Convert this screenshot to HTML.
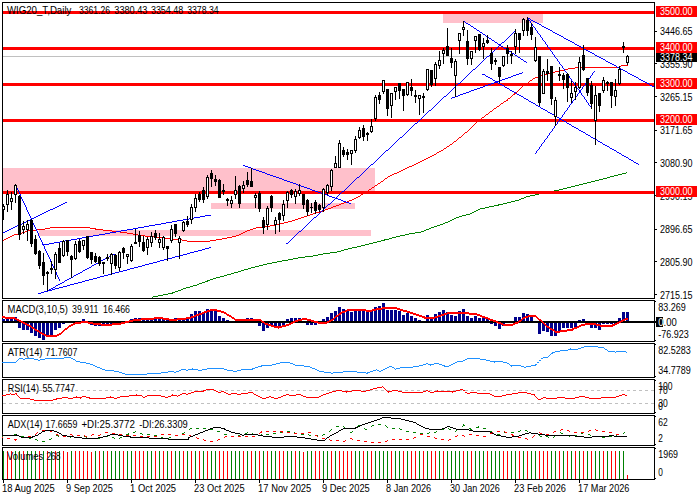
<!DOCTYPE html>
<html><head><meta charset="utf-8"><title>WIG20_T Daily</title>
<style>html,body{margin:0;padding:0;background:#fff;}body{width:700px;height:500px;overflow:hidden;font-family:"Liberation Sans",sans-serif;}</style></head>
<body>
<svg width="700" height="500" viewBox="0 0 700 500" font-family="'Liberation Sans', sans-serif" style="display:block">
<rect x="0" y="0" width="700" height="500" fill="#fff"/>
<defs><clipPath id="cm"><rect x="3" y="3" width="651" height="295"/></clipPath></defs>
<g clip-path="url(#cm)">
<g shape-rendering="crispEdges">
<rect x="3" y="168" width="372" height="24" fill="#FFC0CB"/>
<rect x="211" y="203" width="144" height="6" fill="#FFC0CB"/>
<rect x="39" y="230" width="332" height="6" fill="#FFC0CB"/>
<rect x="443" y="14" width="100" height="9" fill="#FFC0CB"/>
<rect x="3" y="56" width="651" height="1" fill="#C0C0C0"/>
<path d="M626 172h1v1h-1zM622 173h4v1h-4zM618 174h4v1h-4zM614 175h4v1h-4zM610 176h4v1h-4zM607 177h3v1h-3zM603 178h4v1h-4zM599 179h4v1h-4zM595 180h4v1h-4zM591 181h4v1h-4zM587 182h4v1h-4zM583 183h4v1h-4zM579 184h4v1h-4zM575 185h4v1h-4zM571 186h4v1h-4zM567 187h4v1h-4zM563 188h4v1h-4zM559 189h4v1h-4zM554 190h5v1h-5zM549 191h5v1h-5zM544 192h5v1h-5zM539 193h5v1h-5zM535 194h4v1h-4zM530 195h5v1h-5zM526 196h4v1h-4zM524 197h2v1h-2zM521 198h3v1h-3zM519 199h2v1h-2zM515 200h4v1h-4zM511 201h4v1h-4zM507 202h4v1h-4zM503 203h4v1h-4zM498 204h5v1h-5zM494 205h5v1h-5zM489 206h5v1h-5zM485 207h4v1h-4zM480 208h5v1h-5zM478 209h2v1h-2zM476 210h2v1h-2zM474 211h2v1h-2zM472 212h2v1h-2zM470 213h2v1h-2zM466 214h4v1h-4zM462 215h4v1h-4zM459 216h3v1h-3zM456 217h3v1h-3zM454 218h2v1h-2zM452 219h2v1h-2zM450 220h2v1h-2zM448 221h2v1h-2zM445 222h3v1h-3zM443 223h2v1h-2zM440 224h3v1h-3zM437 225h3v1h-3zM434 226h3v1h-3zM431 227h3v1h-3zM429 228h2v1h-2zM426 229h3v1h-3zM424 230h2v1h-2zM421 231h3v1h-3zM415 232h6v1h-6zM409 233h6v1h-6zM405 234h4v1h-4zM400 235h5v1h-5zM396 236h4v1h-4zM392 237h4v1h-4zM389 238h3v1h-3zM384 239h5v1h-5zM381 240h4v1h-4zM377 241h4v1h-4zM373 242h4v1h-4zM369 243h4v1h-4zM365 244h4v1h-4zM361 245h4v1h-4zM357 246h4v1h-4zM352 247h5v1h-5zM348 248h4v1h-4zM344 249h4v1h-4zM341 250h3v1h-3zM337 251h4v1h-4zM330 252h7v1h-7zM323 253h7v1h-7zM318 254h5v1h-5zM313 255h5v1h-5zM305 256h8v1h-8zM298 257h7v1h-7zM293 258h5v1h-5zM288 259h5v1h-5zM282 260h6v1h-6zM277 261h5v1h-5zM272 262h5v1h-5zM267 263h5v1h-5zM263 264h4v1h-4zM259 265h4v1h-4zM255 266h4v1h-4zM251 267h4v1h-4zM248 268h3v1h-3zM244 269h4v1h-4zM241 270h3v1h-3zM238 271h3v1h-3zM234 272h4v1h-4zM231 273h3v1h-3zM227 274h4v1h-4zM224 275h3v1h-3zM220 276h4v1h-4zM216 277h4v1h-4zM213 278h3v1h-3zM210 279h3v1h-3zM207 280h3v1h-3zM205 281h3v1h-3zM202 282h3v1h-3zM199 283h3v1h-3zM197 284h2v1h-2zM193 285h4v1h-4zM190 286h3v1h-3zM186 287h4v1h-4zM183 288h3v1h-3zM181 289h2v1h-2zM178 290h3v1h-3zM175 291h3v1h-3zM172 292h3v1h-3zM168 293h5v1h-5zM163 294h5v1h-5zM158 295h5v1h-5zM153 296h5v1h-5zM152 297h1v1h-1z" fill="#008000"/>
<rect x="3" y="11" width="651" height="3" fill="#FF0000"/>
<rect x="3" y="47" width="651" height="3" fill="#FF0000"/>
<rect x="3" y="83" width="651" height="3" fill="#FF0000"/>
<rect x="3" y="119" width="651" height="3" fill="#FF0000"/>
<rect x="3" y="191" width="651" height="3" fill="#FF0000"/>
</g>
<g shape-rendering="crispEdges">
<path d="M621 65h7v1h-7zM620 66h1v1h-1zM575 67h45v1h-45zM568 68h7v1h-7zM564 69h4v1h-4zM560 70h4v1h-4zM555 71h5v1h-5zM551 72h4v1h-4zM547 73h4v1h-4zM544 74h3v1h-3zM541 75h3v1h-3zM538 76h3v1h-3zM535 77h3v1h-3zM533 78h2v1h-2zM532 79h1v1h-1zM530 80h2v1h-2zM529 81h1v1h-1zM528 82h1v1h-1zM526 83h2v1h-2zM525 84h1v1h-1zM523 85h2v1h-2zM522 86h1v1h-1zM521 87h1v1h-1zM520 88h1v1h-1zM519 89h1v1h-1zM518 90h1v1h-1zM517 91h1v1h-1zM516 92h1v1h-1zM514 93h2v1h-2zM513 94h2v1h-2zM512 95h1v1h-1zM511 96h1v1h-1zM510 97h1v1h-1zM508 98h2v1h-2zM507 99h1v1h-1zM506 100h2v1h-2zM504 101h2v1h-2zM503 102h1v1h-1zM501 103h2v1h-2zM500 104h1v1h-1zM499 105h1v1h-1zM497 106h2v1h-2zM496 107h1v1h-1zM494 108h2v1h-2zM493 109h1v1h-1zM492 110h1v1h-1zM490 111h2v1h-2zM489 112h1v1h-1zM488 113h1v1h-1zM486 114h2v1h-2zM485 115h1v1h-1zM484 116h1v1h-1zM482 117h2v1h-2zM481 118h1v1h-1zM480 119h1v1h-1zM478 120h2v1h-2zM477 121h1v1h-1zM476 122h1v1h-1zM475 123h1v1h-1zM474 124h1v1h-1zM473 125h1v1h-1zM472 126h1v1h-1zM471 127h1v1h-1zM470 128h1v1h-1zM469 129h1v1h-1zM468 130h1v1h-1zM467 131h1v1h-1zM465 132h2v1h-2zM464 133h1v1h-1zM463 134h1v1h-1zM462 135h1v1h-1zM461 136h1v1h-1zM459 137h2v1h-2zM458 138h1v1h-1zM457 139h1v1h-1zM456 140h1v1h-1zM454 141h2v1h-2zM453 142h1v1h-1zM452 143h1v1h-1zM450 144h2v1h-2zM449 145h1v1h-1zM447 146h2v1h-2zM446 147h1v1h-1zM444 148h2v1h-2zM443 149h1v1h-1zM441 150h2v1h-2zM439 151h2v1h-2zM437 152h2v1h-2zM436 153h1v1h-1zM434 154h2v1h-2zM432 155h2v1h-2zM430 156h2v1h-2zM428 157h2v1h-2zM426 158h2v1h-2zM424 159h2v1h-2zM422 160h2v1h-2zM420 161h2v1h-2zM418 162h2v1h-2zM416 163h2v1h-2zM414 164h2v1h-2zM412 165h2v1h-2zM409 166h3v1h-3zM407 167h2v1h-2zM405 168h2v1h-2zM403 169h2v1h-2zM401 170h2v1h-2zM399 171h2v1h-2zM397 172h2v1h-2zM394 173h3v1h-3zM392 174h2v1h-2zM390 175h2v1h-2zM388 176h2v1h-2zM387 177h1v1h-1zM385 178h2v1h-2zM384 179h1v1h-1zM383 180h1v1h-1zM381 181h2v1h-2zM380 182h1v1h-1zM378 183h2v1h-2zM377 184h1v1h-1zM375 185h2v1h-2zM374 186h1v1h-1zM372 187h2v1h-2zM371 188h1v1h-1zM369 189h2v1h-2zM368 190h1v1h-1zM366 191h2v1h-2zM364 192h2v1h-2zM363 193h1v1h-1zM361 194h2v1h-2zM360 195h1v1h-1zM358 196h2v1h-2zM356 197h2v1h-2zM354 198h2v1h-2zM352 199h2v1h-2zM349 200h3v1h-3zM347 201h2v1h-2zM344 202h3v1h-3zM341 203h3v1h-3zM339 204h2v1h-2zM336 205h3v1h-3zM333 206h3v1h-3zM331 207h2v1h-2zM328 208h3v1h-3zM325 209h3v1h-3zM323 210h2v1h-2zM320 211h3v1h-3zM316 212h4v1h-4zM313 213h3v1h-3zM310 214h3v1h-3zM307 215h3v1h-3zM304 216h3v1h-3zM301 217h3v1h-3zM298 218h3v1h-3zM295 219h3v1h-3zM292 220h3v1h-3zM288 221h4v1h-4zM284 222h4v1h-4zM280 223h4v1h-4zM275 224h5v1h-5zM270 225h5v1h-5zM263 226h7v1h-7zM50 227h40v1h-40zM256 227h7v1h-7zM45 228h5v1h-5zM90 228h6v1h-6zM253 228h3v1h-3zM37 229h8v1h-8zM95 229h8v1h-8zM250 229h3v1h-3zM28 230h9v1h-9zM103 230h9v1h-9zM247 230h3v1h-3zM25 231h3v1h-3zM112 231h8v1h-8zM245 231h2v1h-2zM22 232h3v1h-3zM120 232h7v1h-7zM243 232h2v1h-2zM19 233h3v1h-3zM127 233h6v1h-6zM241 233h2v1h-2zM14 234h5v1h-5zM133 234h5v1h-5zM239 234h2v1h-2zM12 235h2v1h-2zM138 235h7v1h-7zM236 235h3v1h-3zM10 236h2v1h-2zM145 236h9v1h-9zM232 236h4v1h-4zM8 237h2v1h-2zM154 237h8v1h-8zM227 237h5v1h-5zM6 238h2v1h-2zM162 238h11v1h-11zM222 238h5v1h-5zM4 239h2v1h-2zM173 239h9v1h-9zM216 239h6v1h-6zM2 240h2v1h-2zM182 240h5v1h-5zM210 240h6v1h-6zM187 241h23v1h-23z" fill="#FF0000"/>
<path d="M209 247h2v1h-2zM205 248h4v1h-4zM202 249h3v1h-3zM198 250h4v1h-4zM194 251h4v1h-4zM190 252h4v1h-4zM187 253h3v1h-3zM183 254h4v1h-4zM179 255h4v1h-4zM175 256h4v1h-4zM172 257h3v1h-3zM168 258h4v1h-4zM164 259h4v1h-4zM160 260h4v1h-4zM157 261h3v1h-3zM153 262h4v1h-4zM149 263h4v1h-4zM145 264h4v1h-4zM142 265h3v1h-3zM138 266h4v1h-4zM134 267h4v1h-4zM130 268h4v1h-4zM127 269h3v1h-3zM123 270h4v1h-4zM119 271h4v1h-4zM115 272h4v1h-4zM112 273h3v1h-3zM108 274h4v1h-4zM104 275h4v1h-4zM100 276h4v1h-4zM97 277h3v1h-3zM93 278h4v1h-4zM89 279h4v1h-4zM85 280h4v1h-4zM82 281h3v1h-3zM78 282h4v1h-4zM74 283h4v1h-4zM70 284h4v1h-4zM67 285h3v1h-3zM63 286h4v1h-4zM59 287h4v1h-4zM55 288h4v1h-4zM52 289h3v1h-3zM48 290h4v1h-4zM44 291h4v1h-4zM41 292h3v1h-3zM38 293h3v1h-3z" fill="#0000FF"/>
<path d="M112 254h3v1h-3zM110 255h2v1h-2zM109 256h1v1h-1zM107 257h2v1h-2zM105 258h2v1h-2zM103 259h2v1h-2zM101 260h2v1h-2zM100 261h1v1h-1zM98 262h2v1h-2zM96 263h2v1h-2zM94 264h2v1h-2zM92 265h2v1h-2zM91 266h1v1h-1zM89 267h2v1h-2zM87 268h2v1h-2zM85 269h2v1h-2zM83 270h2v1h-2zM82 271h1v1h-1zM80 272h2v1h-2zM78 273h2v1h-2zM76 274h2v1h-2zM74 275h2v1h-2zM73 276h1v1h-1zM71 277h2v1h-2zM69 278h2v1h-2zM67 279h2v1h-2zM65 280h2v1h-2zM64 281h1v1h-1zM62 282h2v1h-2zM60 283h2v1h-2zM58 284h2v1h-2zM56 285h2v1h-2zM55 286h1v1h-1zM53 287h2v1h-2zM51 288h2v1h-2zM49 289h2v1h-2zM47 290h2v1h-2zM44 291h3v1h-3zM41 292h3v1h-3zM38 293h3v1h-3z" fill="#0000FF"/>
<path d="M65 202h2v1h-2zM63 203h2v1h-2zM61 204h2v1h-2zM59 205h2v1h-2zM57 206h2v1h-2zM55 207h2v1h-2zM53 208h2v1h-2zM50 209h3v1h-3zM48 210h2v1h-2zM46 211h2v1h-2zM44 212h2v1h-2zM42 213h2v1h-2zM40 214h2v1h-2zM38 215h2v1h-2zM36 216h2v1h-2zM34 217h2v1h-2zM32 218h2v1h-2zM30 219h2v1h-2zM28 220h2v1h-2zM26 221h2v1h-2zM24 222h2v1h-2zM22 223h2v1h-2zM20 224h2v1h-2zM17 225h3v1h-3zM15 226h2v1h-2zM13 227h2v1h-2zM11 228h2v1h-2zM9 229h2v1h-2zM7 230h2v1h-2zM5 231h2v1h-2zM2 232h3v1h-3z" fill="#0000FF"/>
<path d="M17 188h1v1h-1zM17 189h1v1h-1zM18 190h1v1h-1zM18 191h1v1h-1zM19 192h1v1h-1zM19 193h1v1h-1zM20 194h1v1h-1zM20 195h1v1h-1zM20 196h1v1h-1zM21 197h1v1h-1zM21 198h1v1h-1zM22 199h1v1h-1zM22 200h1v1h-1zM23 201h1v1h-1zM23 202h1v1h-1zM24 203h1v1h-1zM24 204h1v1h-1zM25 205h1v1h-1zM25 206h1v1h-1zM26 207h1v1h-1zM26 208h1v1h-1zM26 209h1v1h-1zM27 210h1v1h-1zM27 211h1v1h-1zM28 212h1v1h-1zM28 213h1v1h-1zM29 214h1v1h-1zM29 215h1v1h-1zM30 216h1v1h-1zM30 217h1v1h-1zM31 218h1v1h-1zM31 219h1v1h-1zM32 220h1v1h-1zM32 221h1v1h-1zM32 222h1v1h-1zM33 223h1v1h-1zM33 224h1v1h-1zM34 225h1v1h-1zM34 226h1v1h-1zM35 227h1v1h-1zM35 228h1v1h-1zM36 229h1v1h-1zM36 230h1v1h-1zM37 231h1v1h-1zM37 232h1v1h-1zM38 233h1v1h-1zM38 234h1v1h-1zM38 235h1v1h-1zM39 236h1v1h-1zM39 237h1v1h-1zM40 238h1v1h-1zM40 239h1v1h-1zM41 240h1v1h-1zM41 241h1v1h-1zM42 242h1v1h-1zM42 243h1v1h-1zM43 244h1v1h-1zM43 245h1v1h-1zM44 246h1v1h-1zM44 247h1v1h-1zM44 248h1v1h-1zM45 249h1v1h-1zM45 250h1v1h-1zM46 251h1v1h-1zM46 252h1v1h-1zM47 253h1v1h-1zM47 254h1v1h-1zM48 255h1v1h-1zM48 256h1v1h-1zM49 257h1v1h-1zM49 258h1v1h-1zM50 259h1v1h-1zM50 260h1v1h-1zM50 261h1v1h-1zM51 262h1v1h-1zM51 263h1v1h-1zM52 264h1v1h-1zM52 265h1v1h-1zM53 266h1v1h-1zM53 267h1v1h-1zM54 268h1v1h-1zM54 269h1v1h-1zM55 270h1v1h-1zM55 271h1v1h-1zM56 272h1v1h-1zM56 273h1v1h-1zM56 274h1v1h-1zM57 275h1v1h-1zM57 276h1v1h-1zM58 277h1v1h-1zM58 278h1v1h-1zM59 279h1v1h-1zM59 280h1v1h-1z" fill="#0000FF"/>
<path d="M205 215h6v1h-6zM200 216h5v1h-5zM194 217h6v1h-6zM189 218h5v1h-5zM183 219h6v1h-6zM177 220h6v1h-6zM172 221h5v1h-5zM166 222h6v1h-6zM161 223h5v1h-5zM155 224h6v1h-6zM149 225h6v1h-6zM144 226h5v1h-5zM138 227h6v1h-6zM133 228h5v1h-5zM127 229h6v1h-6zM121 230h6v1h-6zM116 231h5v1h-5zM110 232h6v1h-6zM105 233h5v1h-5zM99 234h6v1h-6zM93 235h6v1h-6zM88 236h5v1h-5zM82 237h6v1h-6zM77 238h5v1h-5zM71 239h6v1h-6zM65 240h6v1h-6zM60 241h5v1h-5zM54 242h6v1h-6zM49 243h5v1h-5zM42 244h7v1h-7z" fill="#0000FF"/>
<path d="M243 165h2v1h-2zM245 166h3v1h-3zM248 167h3v1h-3zM251 168h2v1h-2zM253 169h3v1h-3zM256 170h3v1h-3zM259 171h3v1h-3zM262 172h3v1h-3zM265 173h2v1h-2zM267 174h3v1h-3zM270 175h3v1h-3zM273 176h3v1h-3zM276 177h3v1h-3zM279 178h3v1h-3zM282 179h2v1h-2zM284 180h3v1h-3zM287 181h3v1h-3zM290 182h3v1h-3zM293 183h3v1h-3zM296 184h2v1h-2zM298 185h3v1h-3zM301 186h3v1h-3zM304 187h3v1h-3zM307 188h3v1h-3zM310 189h2v1h-2zM312 190h3v1h-3zM315 191h3v1h-3zM318 192h3v1h-3zM321 193h3v1h-3zM324 194h3v1h-3zM327 195h2v1h-2zM329 196h3v1h-3zM332 197h3v1h-3zM335 198h3v1h-3zM338 199h3v1h-3zM341 200h2v1h-2zM343 201h3v1h-3zM346 202h3v1h-3zM349 203h2v1h-2z" fill="#0000FF"/>
<path d="M515 30h1v1h-1zM514 31h1v1h-1zM513 32h1v1h-1zM512 33h1v1h-1zM511 34h1v1h-1zM510 35h1v1h-1zM509 36h1v1h-1zM508 37h1v1h-1zM507 38h1v1h-1zM506 39h1v1h-1zM505 40h1v1h-1zM504 41h1v1h-1zM502 42h2v1h-2zM501 43h1v1h-1zM500 44h1v1h-1zM499 45h1v1h-1zM498 46h1v1h-1zM497 47h1v1h-1zM496 48h1v1h-1zM495 49h1v1h-1zM494 50h1v1h-1zM493 51h1v1h-1zM492 52h1v1h-1zM491 53h1v1h-1zM490 54h1v1h-1zM489 55h1v1h-1zM487 56h2v1h-2zM486 57h1v1h-1zM485 58h1v1h-1zM484 59h1v1h-1zM483 60h1v1h-1zM482 61h1v1h-1zM481 62h1v1h-1zM480 63h1v1h-1zM479 64h1v1h-1zM478 65h1v1h-1zM477 66h1v1h-1zM476 67h1v1h-1zM475 68h1v1h-1zM473 69h2v1h-2zM472 70h1v1h-1zM471 71h1v1h-1zM470 72h1v1h-1zM469 73h1v1h-1zM468 74h1v1h-1zM467 75h1v1h-1zM466 76h1v1h-1zM465 77h1v1h-1zM464 78h1v1h-1zM463 79h1v1h-1zM462 80h1v1h-1zM461 81h1v1h-1zM460 82h1v1h-1zM458 83h2v1h-2zM457 84h1v1h-1zM456 85h1v1h-1zM455 86h1v1h-1zM454 87h1v1h-1zM453 88h1v1h-1zM452 89h1v1h-1zM451 90h1v1h-1zM450 91h1v1h-1zM449 92h1v1h-1zM448 93h1v1h-1zM447 94h1v1h-1zM446 95h1v1h-1zM444 96h2v1h-2zM443 97h1v1h-1zM442 98h1v1h-1zM441 99h1v1h-1zM440 100h1v1h-1zM439 101h1v1h-1zM438 102h1v1h-1zM437 103h1v1h-1zM436 104h1v1h-1zM435 105h1v1h-1zM434 106h1v1h-1zM433 107h1v1h-1zM432 108h1v1h-1zM431 109h1v1h-1zM429 110h2v1h-2zM428 111h1v1h-1zM427 112h1v1h-1zM426 113h1v1h-1zM425 114h1v1h-1zM424 115h1v1h-1zM423 116h1v1h-1zM422 117h1v1h-1zM421 118h1v1h-1zM420 119h1v1h-1zM419 120h1v1h-1zM418 121h1v1h-1zM417 122h1v1h-1zM415 123h2v1h-2zM414 124h1v1h-1zM413 125h1v1h-1zM412 126h1v1h-1zM411 127h1v1h-1zM410 128h1v1h-1zM409 129h1v1h-1zM408 130h1v1h-1zM407 131h1v1h-1zM406 132h1v1h-1zM405 133h1v1h-1zM404 134h1v1h-1zM403 135h1v1h-1zM402 136h1v1h-1zM400 137h2v1h-2zM399 138h1v1h-1zM398 139h1v1h-1zM397 140h1v1h-1zM396 141h1v1h-1zM395 142h1v1h-1zM394 143h1v1h-1zM393 144h1v1h-1zM392 145h1v1h-1zM391 146h1v1h-1zM390 147h1v1h-1zM389 148h1v1h-1zM388 149h1v1h-1zM386 150h2v1h-2zM385 151h1v1h-1zM384 152h1v1h-1zM383 153h1v1h-1zM382 154h1v1h-1zM381 155h1v1h-1zM380 156h1v1h-1zM379 157h1v1h-1zM378 158h1v1h-1zM377 159h1v1h-1zM376 160h1v1h-1zM375 161h1v1h-1zM374 162h1v1h-1zM373 163h1v1h-1zM371 164h2v1h-2zM370 165h1v1h-1zM369 166h1v1h-1zM368 167h1v1h-1zM367 168h1v1h-1zM366 169h1v1h-1zM365 170h1v1h-1zM364 171h1v1h-1zM363 172h1v1h-1zM362 173h1v1h-1zM361 174h1v1h-1zM360 175h1v1h-1zM359 176h1v1h-1zM357 177h2v1h-2zM356 178h1v1h-1zM355 179h1v1h-1zM354 180h1v1h-1zM353 181h1v1h-1zM352 182h1v1h-1zM351 183h1v1h-1zM350 184h1v1h-1zM349 185h1v1h-1zM348 186h1v1h-1zM347 187h1v1h-1zM346 188h1v1h-1zM345 189h1v1h-1zM344 190h1v1h-1zM342 191h2v1h-2zM341 192h1v1h-1zM340 193h1v1h-1zM339 194h1v1h-1zM338 195h1v1h-1zM337 196h1v1h-1zM336 197h1v1h-1zM335 198h1v1h-1zM334 199h1v1h-1zM333 200h1v1h-1zM332 201h1v1h-1zM331 202h1v1h-1zM330 203h1v1h-1zM328 204h2v1h-2zM327 205h1v1h-1zM326 206h1v1h-1zM325 207h1v1h-1zM324 208h1v1h-1zM323 209h1v1h-1zM322 210h1v1h-1zM321 211h1v1h-1zM320 212h1v1h-1zM319 213h1v1h-1zM318 214h1v1h-1zM317 215h1v1h-1zM316 216h1v1h-1zM314 217h2v1h-2zM313 218h1v1h-1zM312 219h1v1h-1zM311 220h1v1h-1zM310 221h1v1h-1zM309 222h1v1h-1zM308 223h1v1h-1zM307 224h1v1h-1zM306 225h1v1h-1zM305 226h1v1h-1zM304 227h1v1h-1zM303 228h1v1h-1zM302 229h1v1h-1zM301 230h1v1h-1zM299 231h2v1h-2zM298 232h1v1h-1zM297 233h1v1h-1zM296 234h1v1h-1zM295 235h1v1h-1zM294 236h1v1h-1zM293 237h1v1h-1zM292 238h1v1h-1zM291 239h1v1h-1zM290 240h1v1h-1zM289 241h1v1h-1zM288 242h1v1h-1zM286 243h2v1h-2z" fill="#0000FF"/>
<path d="M463 21h2v1h-2zM465 22h1v1h-1zM466 23h2v1h-2zM468 24h2v1h-2zM470 25h1v1h-1zM471 26h2v1h-2zM473 27h1v1h-1zM474 28h2v1h-2zM476 29h1v1h-1zM477 30h2v1h-2zM479 31h1v1h-1zM480 32h2v1h-2zM482 33h1v1h-1zM483 34h2v1h-2zM485 35h1v1h-1zM486 36h2v1h-2zM488 37h1v1h-1zM489 38h2v1h-2zM491 39h1v1h-1zM492 40h2v1h-2zM494 41h1v1h-1zM495 42h2v1h-2zM497 43h1v1h-1zM498 44h2v1h-2zM500 45h1v1h-1zM501 46h2v1h-2zM503 47h1v1h-1zM504 48h2v1h-2zM506 49h2v1h-2zM508 50h1v1h-1zM509 51h2v1h-2zM511 52h1v1h-1zM512 53h2v1h-2zM514 54h1v1h-1zM515 55h2v1h-2zM517 56h1v1h-1zM518 57h2v1h-2zM520 58h1v1h-1zM521 59h2v1h-2zM523 60h1v1h-1zM524 61h2v1h-2zM526 62h1v1h-1z" fill="#0000FF"/>
<path d="M522 72h1v1h-1zM519 73h3v1h-3zM516 74h3v1h-3zM513 75h3v1h-3zM511 76h2v1h-2zM508 77h3v1h-3zM505 78h3v1h-3zM502 79h3v1h-3zM499 80h3v1h-3zM497 81h2v1h-2zM494 82h3v1h-3zM491 83h3v1h-3zM488 84h3v1h-3zM485 85h3v1h-3zM483 86h2v1h-2zM480 87h3v1h-3zM477 88h3v1h-3zM474 89h3v1h-3zM471 90h3v1h-3zM469 91h2v1h-2zM466 92h3v1h-3zM463 93h3v1h-3zM460 94h3v1h-3zM458 95h2v1h-2zM455 96h3v1h-3zM452 97h3v1h-3zM451 98h1v1h-1z" fill="#0000FF"/>
<path d="M482 74h3v1h-3zM485 75h1v1h-1zM486 76h2v1h-2zM488 77h2v1h-2zM490 78h2v1h-2zM492 79h1v1h-1zM493 80h2v1h-2zM495 81h2v1h-2zM497 82h1v1h-1zM498 83h2v1h-2zM500 84h2v1h-2zM502 85h2v1h-2zM504 86h1v1h-1zM505 87h2v1h-2zM507 88h2v1h-2zM509 89h1v1h-1zM510 90h2v1h-2zM512 91h2v1h-2zM514 92h2v1h-2zM516 93h1v1h-1zM517 94h2v1h-2zM519 95h2v1h-2zM521 96h2v1h-2zM523 97h1v1h-1zM524 98h2v1h-2zM526 99h2v1h-2zM528 100h1v1h-1zM529 101h2v1h-2zM531 102h2v1h-2zM533 103h2v1h-2zM535 104h1v1h-1zM536 105h2v1h-2zM538 106h2v1h-2zM540 107h1v1h-1zM541 108h2v1h-2zM543 109h2v1h-2zM545 110h2v1h-2zM547 111h1v1h-1zM548 112h2v1h-2zM550 113h2v1h-2zM552 114h2v1h-2zM554 115h1v1h-1zM555 116h2v1h-2zM557 117h2v1h-2zM559 118h1v1h-1zM560 119h2v1h-2zM562 120h2v1h-2zM564 121h2v1h-2zM566 122h1v1h-1zM567 123h2v1h-2zM569 124h2v1h-2zM571 125h1v1h-1zM572 126h2v1h-2zM574 127h2v1h-2zM576 128h2v1h-2zM578 129h1v1h-1zM579 130h2v1h-2zM581 131h2v1h-2zM583 132h2v1h-2zM585 133h1v1h-1zM586 134h2v1h-2zM588 135h2v1h-2zM590 136h1v1h-1zM591 137h2v1h-2zM593 138h2v1h-2zM595 139h2v1h-2zM597 140h1v1h-1zM598 141h2v1h-2zM600 142h2v1h-2zM602 143h1v1h-1zM603 144h2v1h-2zM605 145h2v1h-2zM607 146h2v1h-2zM609 147h1v1h-1zM610 148h2v1h-2zM612 149h2v1h-2zM614 150h2v1h-2zM616 151h1v1h-1zM617 152h2v1h-2zM619 153h2v1h-2zM621 154h1v1h-1zM622 155h2v1h-2zM624 156h2v1h-2zM626 157h2v1h-2zM628 158h1v1h-1zM629 159h2v1h-2zM631 160h2v1h-2zM633 161h1v1h-1zM634 162h2v1h-2zM636 163h2v1h-2zM638 164h1v1h-1z" fill="#0000FF"/>
<path d="M527 17h1v1h-1zM528 18h2v1h-2zM530 19h1v1h-1zM531 20h2v1h-2zM533 21h2v1h-2zM535 22h2v1h-2zM537 23h2v1h-2zM539 24h2v1h-2zM541 25h1v1h-1zM542 26h2v1h-2zM544 27h2v1h-2zM546 28h2v1h-2zM548 29h2v1h-2zM550 30h2v1h-2zM552 31h1v1h-1zM553 32h2v1h-2zM555 33h2v1h-2zM557 34h2v1h-2zM559 35h2v1h-2zM561 36h2v1h-2zM563 37h1v1h-1zM564 38h2v1h-2zM566 39h2v1h-2zM568 40h2v1h-2zM570 41h2v1h-2zM572 42h2v1h-2zM574 43h1v1h-1zM575 44h2v1h-2zM577 45h2v1h-2zM579 46h2v1h-2zM581 47h2v1h-2zM583 48h1v1h-1zM584 49h2v1h-2zM586 50h2v1h-2zM588 51h2v1h-2zM590 52h2v1h-2zM592 53h2v1h-2zM594 54h1v1h-1zM595 55h2v1h-2zM597 56h2v1h-2zM599 57h2v1h-2zM601 58h2v1h-2zM603 59h2v1h-2zM605 60h1v1h-1zM606 61h2v1h-2zM608 62h2v1h-2zM610 63h2v1h-2zM612 64h2v1h-2zM614 65h2v1h-2zM616 66h1v1h-1zM617 67h2v1h-2zM619 68h2v1h-2zM621 69h2v1h-2zM623 70h2v1h-2zM625 71h2v1h-2zM627 72h1v1h-1zM628 73h2v1h-2zM630 74h2v1h-2zM632 75h2v1h-2zM634 76h2v1h-2zM636 77h2v1h-2zM638 78h1v1h-1zM639 79h2v1h-2zM641 80h2v1h-2zM643 81h2v1h-2zM645 82h2v1h-2zM647 83h2v1h-2zM649 84h1v1h-1zM650 85h2v1h-2zM652 86h3v1h-3z" fill="#0000FF"/>
<path d="M527 17h1v1h-1zM528 18h1v1h-1zM528 19h1v1h-1zM529 20h1v1h-1zM530 21h1v1h-1zM530 22h1v1h-1zM531 23h1v1h-1zM532 24h1v1h-1zM532 25h1v1h-1zM533 26h1v1h-1zM534 27h1v1h-1zM535 28h1v1h-1zM535 29h1v1h-1zM536 30h1v1h-1zM537 31h1v1h-1zM537 32h1v1h-1zM538 33h1v1h-1zM539 34h1v1h-1zM540 35h1v1h-1zM540 36h1v1h-1zM541 37h1v1h-1zM542 38h1v1h-1zM542 39h1v1h-1zM543 40h1v1h-1zM544 41h1v1h-1zM545 42h1v1h-1zM545 43h1v1h-1zM546 44h1v1h-1zM547 45h1v1h-1zM547 46h1v1h-1zM548 47h1v1h-1zM549 48h1v1h-1zM550 49h1v1h-1zM550 50h1v1h-1zM551 51h1v1h-1zM552 52h1v1h-1zM552 53h1v1h-1zM553 54h1v1h-1zM554 55h1v1h-1zM554 56h1v1h-1zM555 57h1v1h-1zM556 58h1v1h-1zM557 59h1v1h-1zM557 60h1v1h-1zM558 61h1v1h-1zM559 62h1v1h-1zM559 63h1v1h-1zM560 64h1v1h-1zM561 65h1v1h-1zM562 66h1v1h-1zM562 67h1v1h-1zM563 68h1v1h-1zM564 69h1v1h-1zM564 70h1v1h-1zM565 71h1v1h-1zM566 72h1v1h-1zM567 73h1v1h-1zM567 74h1v1h-1zM568 75h1v1h-1zM569 76h1v1h-1zM569 77h1v1h-1zM570 78h1v1h-1zM571 79h1v1h-1zM571 80h1v1h-1zM572 81h1v1h-1zM573 82h1v1h-1zM574 83h1v1h-1zM574 84h1v1h-1zM575 85h1v1h-1zM576 86h1v1h-1zM576 87h1v1h-1zM577 88h1v1h-1zM578 89h1v1h-1zM579 90h1v1h-1zM579 91h1v1h-1zM580 92h1v1h-1zM581 93h1v1h-1zM581 94h1v1h-1zM582 95h1v1h-1zM583 96h1v1h-1zM584 97h1v1h-1zM584 98h1v1h-1zM585 99h1v1h-1zM586 100h1v1h-1zM586 101h1v1h-1zM587 102h1v1h-1zM588 103h1v1h-1zM588 104h1v1h-1zM589 105h1v1h-1zM590 106h1v1h-1zM591 107h1v1h-1z" fill="#0000FF"/>
<path d="M594 71h1v1h-1zM593 72h1v1h-1zM592 73h1v1h-1zM592 74h1v1h-1zM591 75h1v1h-1zM590 76h1v1h-1zM590 77h1v1h-1zM589 78h1v1h-1zM588 79h1v1h-1zM587 80h1v1h-1zM587 81h1v1h-1zM586 82h1v1h-1zM585 83h1v1h-1zM585 84h1v1h-1zM584 85h1v1h-1zM583 86h1v1h-1zM582 87h1v1h-1zM582 88h1v1h-1zM581 89h1v1h-1zM580 90h1v1h-1zM580 91h1v1h-1zM579 92h1v1h-1zM578 93h1v1h-1zM577 94h1v1h-1zM577 95h1v1h-1zM576 96h1v1h-1zM575 97h1v1h-1zM575 98h1v1h-1zM574 99h1v1h-1zM573 100h1v1h-1zM572 101h1v1h-1zM572 102h1v1h-1zM571 103h1v1h-1zM570 104h1v1h-1zM569 105h1v1h-1zM569 106h1v1h-1zM568 107h1v1h-1zM567 108h1v1h-1zM567 109h1v1h-1zM566 110h1v1h-1zM565 111h1v1h-1zM564 112h1v1h-1zM564 113h1v1h-1zM563 114h1v1h-1zM562 115h1v1h-1zM562 116h1v1h-1zM561 117h1v1h-1zM560 118h1v1h-1zM559 119h1v1h-1zM559 120h1v1h-1zM558 121h1v1h-1zM557 122h1v1h-1zM557 123h1v1h-1zM556 124h1v1h-1zM555 125h1v1h-1zM554 126h1v1h-1zM554 127h1v1h-1zM553 128h1v1h-1zM552 129h1v1h-1zM552 130h1v1h-1zM551 131h1v1h-1zM550 132h1v1h-1zM549 133h1v1h-1zM549 134h1v1h-1zM548 135h1v1h-1zM547 136h1v1h-1zM547 137h1v1h-1zM546 138h1v1h-1zM545 139h1v1h-1zM544 140h1v1h-1zM544 141h1v1h-1zM543 142h1v1h-1zM542 143h1v1h-1zM541 144h1v1h-1zM541 145h1v1h-1zM540 146h1v1h-1zM539 147h1v1h-1zM539 148h1v1h-1zM538 149h1v1h-1zM537 150h1v1h-1zM536 151h1v1h-1zM536 152h1v1h-1zM535 153h1v1h-1z" fill="#0000FF"/>
</g>
<g shape-rendering="crispEdges">
<rect x="3" y="204" width="1" height="16" fill="#000"/>
<rect x="2" y="206" width="3" height="4" fill="#000"/>
<rect x="3" y="207" width="1" height="2" fill="#fff"/>
<rect x="7" y="190" width="1" height="22" fill="#000"/>
<rect x="6" y="194" width="3" height="11" fill="#000"/>
<rect x="7" y="195" width="1" height="9" fill="#fff"/>
<rect x="11" y="192" width="1" height="18" fill="#000"/>
<rect x="10" y="198" width="3" height="4" fill="#000"/>
<rect x="11" y="199" width="1" height="2" fill="#fff"/>
<rect x="15" y="184" width="1" height="19" fill="#000"/>
<rect x="14" y="185" width="3" height="10" fill="#000"/>
<rect x="15" y="186" width="1" height="8" fill="#fff"/>
<rect x="19" y="195" width="1" height="45" fill="#000"/>
<rect x="18" y="196" width="3" height="39" fill="#000"/>
<rect x="23" y="221" width="1" height="13" fill="#000"/>
<rect x="22" y="226" width="3" height="4" fill="#000"/>
<rect x="23" y="227" width="1" height="2" fill="#fff"/>
<rect x="27" y="220" width="1" height="21" fill="#000"/>
<rect x="26" y="224" width="3" height="6" fill="#000"/>
<rect x="27" y="225" width="1" height="4" fill="#fff"/>
<rect x="31" y="219" width="1" height="28" fill="#000"/>
<rect x="30" y="220" width="3" height="24" fill="#000"/>
<rect x="35" y="235" width="1" height="20" fill="#000"/>
<rect x="34" y="239" width="3" height="15" fill="#000"/>
<rect x="39" y="250" width="1" height="19" fill="#000"/>
<rect x="38" y="251" width="3" height="15" fill="#000"/>
<rect x="43" y="253" width="1" height="32" fill="#000"/>
<rect x="42" y="262" width="3" height="14" fill="#000"/>
<rect x="47" y="271" width="1" height="20" fill="#000"/>
<rect x="46" y="272" width="3" height="2" fill="#000"/>
<rect x="51" y="261" width="1" height="13" fill="#000"/>
<rect x="50" y="268" width="3" height="2" fill="#000"/>
<rect x="55" y="252" width="1" height="27" fill="#000"/>
<rect x="54" y="254" width="3" height="16" fill="#000"/>
<rect x="55" y="255" width="1" height="14" fill="#fff"/>
<rect x="59" y="243" width="1" height="20" fill="#000"/>
<rect x="58" y="248" width="3" height="15" fill="#000"/>
<rect x="63" y="240" width="1" height="17" fill="#000"/>
<rect x="62" y="241" width="3" height="15" fill="#000"/>
<rect x="63" y="242" width="1" height="13" fill="#fff"/>
<rect x="67" y="240" width="1" height="16" fill="#000"/>
<rect x="66" y="240" width="3" height="12" fill="#000"/>
<rect x="71" y="255" width="1" height="23" fill="#000"/>
<rect x="70" y="256" width="3" height="4" fill="#000"/>
<rect x="75" y="241" width="1" height="19" fill="#000"/>
<rect x="74" y="244" width="3" height="15" fill="#000"/>
<rect x="75" y="245" width="1" height="13" fill="#fff"/>
<rect x="79" y="239" width="1" height="14" fill="#000"/>
<rect x="78" y="241" width="3" height="11" fill="#000"/>
<rect x="83" y="240" width="1" height="10" fill="#000"/>
<rect x="82" y="240" width="3" height="6" fill="#000"/>
<rect x="83" y="241" width="1" height="4" fill="#fff"/>
<rect x="87" y="236" width="1" height="23" fill="#000"/>
<rect x="86" y="236" width="3" height="22" fill="#000"/>
<rect x="91" y="252" width="1" height="12" fill="#000"/>
<rect x="90" y="252" width="3" height="8" fill="#000"/>
<rect x="95" y="253" width="1" height="10" fill="#000"/>
<rect x="94" y="256" width="3" height="6" fill="#000"/>
<rect x="99" y="256" width="1" height="10" fill="#000"/>
<rect x="98" y="257" width="3" height="7" fill="#000"/>
<rect x="103" y="262" width="1" height="12" fill="#000"/>
<rect x="102" y="262" width="3" height="2" fill="#000"/>
<rect x="107" y="254" width="1" height="7" fill="#000"/>
<rect x="106" y="257" width="3" height="2" fill="#000"/>
<rect x="111" y="253" width="1" height="22" fill="#000"/>
<rect x="110" y="254" width="3" height="10" fill="#000"/>
<rect x="111" y="255" width="1" height="8" fill="#fff"/>
<rect x="115" y="254" width="1" height="15" fill="#000"/>
<rect x="114" y="255" width="3" height="11" fill="#000"/>
<rect x="119" y="251" width="1" height="20" fill="#000"/>
<rect x="118" y="252" width="3" height="16" fill="#000"/>
<rect x="119" y="253" width="1" height="14" fill="#fff"/>
<rect x="123" y="247" width="1" height="12" fill="#000"/>
<rect x="122" y="248" width="3" height="5" fill="#000"/>
<rect x="127" y="254" width="1" height="10" fill="#000"/>
<rect x="126" y="254" width="3" height="3" fill="#000"/>
<rect x="127" y="255" width="1" height="1" fill="#fff"/>
<rect x="131" y="244" width="1" height="18" fill="#000"/>
<rect x="130" y="246" width="3" height="15" fill="#000"/>
<rect x="131" y="247" width="1" height="13" fill="#fff"/>
<rect x="135" y="229" width="1" height="15" fill="#000"/>
<rect x="134" y="242" width="3" height="2" fill="#000"/>
<rect x="139" y="231" width="1" height="16" fill="#000"/>
<rect x="138" y="235" width="3" height="7" fill="#000"/>
<rect x="143" y="236" width="1" height="16" fill="#000"/>
<rect x="142" y="242" width="3" height="9" fill="#000"/>
<rect x="147" y="237" width="1" height="18" fill="#000"/>
<rect x="146" y="239" width="3" height="9" fill="#000"/>
<rect x="147" y="240" width="1" height="7" fill="#fff"/>
<rect x="151" y="232" width="1" height="15" fill="#000"/>
<rect x="150" y="236" width="3" height="7" fill="#000"/>
<rect x="151" y="237" width="1" height="5" fill="#fff"/>
<rect x="155" y="230" width="1" height="10" fill="#000"/>
<rect x="154" y="233" width="3" height="5" fill="#000"/>
<rect x="159" y="233" width="1" height="15" fill="#000"/>
<rect x="158" y="239" width="3" height="4" fill="#000"/>
<rect x="159" y="240" width="1" height="2" fill="#fff"/>
<rect x="163" y="236" width="1" height="14" fill="#000"/>
<rect x="162" y="237" width="3" height="11" fill="#000"/>
<rect x="163" y="238" width="1" height="9" fill="#fff"/>
<rect x="167" y="246" width="1" height="15" fill="#000"/>
<rect x="166" y="246" width="3" height="3" fill="#000"/>
<rect x="171" y="225" width="1" height="18" fill="#000"/>
<rect x="170" y="229" width="3" height="12" fill="#000"/>
<rect x="171" y="230" width="1" height="10" fill="#fff"/>
<rect x="175" y="224" width="1" height="13" fill="#000"/>
<rect x="174" y="224" width="3" height="10" fill="#000"/>
<rect x="179" y="236" width="1" height="23" fill="#000"/>
<rect x="178" y="238" width="3" height="5" fill="#000"/>
<rect x="179" y="239" width="1" height="3" fill="#fff"/>
<rect x="183" y="221" width="1" height="11" fill="#000"/>
<rect x="182" y="222" width="3" height="9" fill="#000"/>
<rect x="183" y="223" width="1" height="7" fill="#fff"/>
<rect x="187" y="216" width="1" height="11" fill="#000"/>
<rect x="186" y="221" width="3" height="4" fill="#000"/>
<rect x="191" y="204" width="1" height="20" fill="#000"/>
<rect x="190" y="207" width="3" height="13" fill="#000"/>
<rect x="191" y="208" width="1" height="11" fill="#fff"/>
<rect x="195" y="194" width="1" height="18" fill="#000"/>
<rect x="194" y="198" width="3" height="10" fill="#000"/>
<rect x="195" y="199" width="1" height="8" fill="#fff"/>
<rect x="199" y="192" width="1" height="10" fill="#000"/>
<rect x="198" y="194" width="3" height="6" fill="#000"/>
<rect x="203" y="187" width="1" height="16" fill="#000"/>
<rect x="202" y="190" width="3" height="10" fill="#000"/>
<rect x="207" y="175" width="1" height="24" fill="#000"/>
<rect x="206" y="177" width="3" height="20" fill="#000"/>
<rect x="207" y="178" width="1" height="18" fill="#fff"/>
<rect x="211" y="170" width="1" height="17" fill="#000"/>
<rect x="210" y="173" width="3" height="6" fill="#000"/>
<rect x="215" y="175" width="1" height="11" fill="#000"/>
<rect x="214" y="179" width="3" height="3" fill="#000"/>
<rect x="219" y="179" width="1" height="19" fill="#000"/>
<rect x="218" y="180" width="3" height="18" fill="#000"/>
<rect x="223" y="184" width="1" height="11" fill="#000"/>
<rect x="222" y="190" width="3" height="2" fill="#000"/>
<rect x="227" y="198" width="1" height="8" fill="#000"/>
<rect x="226" y="199" width="3" height="2" fill="#000"/>
<rect x="231" y="196" width="1" height="12" fill="#000"/>
<rect x="230" y="200" width="3" height="4" fill="#000"/>
<rect x="231" y="201" width="1" height="2" fill="#fff"/>
<rect x="235" y="176" width="1" height="23" fill="#000"/>
<rect x="234" y="190" width="3" height="5" fill="#000"/>
<rect x="235" y="191" width="1" height="3" fill="#fff"/>
<rect x="239" y="185" width="1" height="23" fill="#000"/>
<rect x="238" y="186" width="3" height="18" fill="#000"/>
<rect x="243" y="181" width="1" height="12" fill="#000"/>
<rect x="242" y="185" width="3" height="4" fill="#000"/>
<rect x="243" y="186" width="1" height="2" fill="#fff"/>
<rect x="247" y="172" width="1" height="15" fill="#000"/>
<rect x="246" y="180" width="3" height="5" fill="#000"/>
<rect x="251" y="168" width="1" height="19" fill="#000"/>
<rect x="250" y="181" width="3" height="6" fill="#000"/>
<rect x="255" y="193" width="1" height="15" fill="#000"/>
<rect x="254" y="195" width="3" height="3" fill="#000"/>
<rect x="255" y="196" width="1" height="1" fill="#fff"/>
<rect x="259" y="191" width="1" height="21" fill="#000"/>
<rect x="258" y="193" width="3" height="16" fill="#000"/>
<rect x="263" y="217" width="1" height="17" fill="#000"/>
<rect x="262" y="220" width="3" height="8" fill="#000"/>
<rect x="267" y="206" width="1" height="24" fill="#000"/>
<rect x="266" y="208" width="3" height="17" fill="#000"/>
<rect x="267" y="209" width="1" height="15" fill="#fff"/>
<rect x="271" y="195" width="1" height="17" fill="#000"/>
<rect x="270" y="196" width="3" height="12" fill="#000"/>
<rect x="275" y="217" width="1" height="17" fill="#000"/>
<rect x="274" y="220" width="3" height="5" fill="#000"/>
<rect x="275" y="221" width="1" height="3" fill="#fff"/>
<rect x="279" y="212" width="1" height="20" fill="#000"/>
<rect x="278" y="213" width="3" height="7" fill="#000"/>
<rect x="283" y="200" width="1" height="21" fill="#000"/>
<rect x="282" y="204" width="3" height="12" fill="#000"/>
<rect x="283" y="205" width="1" height="10" fill="#fff"/>
<rect x="287" y="191" width="1" height="17" fill="#000"/>
<rect x="286" y="192" width="3" height="9" fill="#000"/>
<rect x="287" y="193" width="1" height="7" fill="#fff"/>
<rect x="291" y="189" width="1" height="9" fill="#000"/>
<rect x="290" y="190" width="3" height="5" fill="#000"/>
<rect x="295" y="189" width="1" height="15" fill="#000"/>
<rect x="294" y="191" width="3" height="6" fill="#000"/>
<rect x="295" y="192" width="1" height="4" fill="#fff"/>
<rect x="299" y="184" width="1" height="12" fill="#000"/>
<rect x="298" y="190" width="3" height="4" fill="#000"/>
<rect x="299" y="191" width="1" height="2" fill="#fff"/>
<rect x="303" y="194" width="1" height="15" fill="#000"/>
<rect x="302" y="194" width="3" height="11" fill="#000"/>
<rect x="307" y="199" width="1" height="17" fill="#000"/>
<rect x="306" y="200" width="3" height="12" fill="#000"/>
<rect x="311" y="203" width="1" height="10" fill="#000"/>
<rect x="310" y="207" width="3" height="1" fill="#000"/>
<rect x="315" y="200" width="1" height="14" fill="#000"/>
<rect x="314" y="202" width="3" height="9" fill="#000"/>
<rect x="319" y="204" width="1" height="8" fill="#000"/>
<rect x="318" y="205" width="3" height="5" fill="#000"/>
<rect x="323" y="188" width="1" height="24" fill="#000"/>
<rect x="322" y="189" width="3" height="19" fill="#000"/>
<rect x="323" y="190" width="1" height="17" fill="#fff"/>
<rect x="327" y="184" width="1" height="11" fill="#000"/>
<rect x="326" y="185" width="3" height="8" fill="#000"/>
<rect x="327" y="186" width="1" height="6" fill="#fff"/>
<rect x="331" y="169" width="1" height="22" fill="#000"/>
<rect x="330" y="170" width="3" height="17" fill="#000"/>
<rect x="331" y="171" width="1" height="15" fill="#fff"/>
<rect x="335" y="156" width="1" height="12" fill="#000"/>
<rect x="334" y="163" width="3" height="5" fill="#000"/>
<rect x="335" y="164" width="1" height="3" fill="#fff"/>
<rect x="339" y="140" width="1" height="28" fill="#000"/>
<rect x="338" y="143" width="3" height="25" fill="#000"/>
<rect x="339" y="144" width="1" height="23" fill="#fff"/>
<rect x="343" y="147" width="1" height="10" fill="#000"/>
<rect x="342" y="150" width="3" height="5" fill="#000"/>
<rect x="347" y="149" width="1" height="11" fill="#000"/>
<rect x="346" y="152" width="3" height="3" fill="#000"/>
<rect x="351" y="150" width="1" height="15" fill="#000"/>
<rect x="350" y="150" width="3" height="4" fill="#000"/>
<rect x="351" y="151" width="1" height="2" fill="#fff"/>
<rect x="355" y="136" width="1" height="17" fill="#000"/>
<rect x="354" y="139" width="3" height="12" fill="#000"/>
<rect x="355" y="140" width="1" height="10" fill="#fff"/>
<rect x="359" y="127" width="1" height="12" fill="#000"/>
<rect x="358" y="130" width="3" height="8" fill="#000"/>
<rect x="359" y="131" width="1" height="6" fill="#fff"/>
<rect x="363" y="125" width="1" height="16" fill="#000"/>
<rect x="362" y="128" width="3" height="9" fill="#000"/>
<rect x="367" y="132" width="1" height="9" fill="#000"/>
<rect x="366" y="133" width="3" height="2" fill="#000"/>
<rect x="371" y="119" width="1" height="14" fill="#000"/>
<rect x="370" y="126" width="3" height="6" fill="#000"/>
<rect x="371" y="127" width="1" height="4" fill="#fff"/>
<rect x="375" y="95" width="1" height="26" fill="#000"/>
<rect x="374" y="97" width="3" height="22" fill="#000"/>
<rect x="375" y="98" width="1" height="20" fill="#fff"/>
<rect x="379" y="92" width="1" height="12" fill="#000"/>
<rect x="378" y="95" width="3" height="5" fill="#000"/>
<rect x="383" y="80" width="1" height="14" fill="#000"/>
<rect x="382" y="80" width="3" height="12" fill="#000"/>
<rect x="383" y="81" width="1" height="10" fill="#fff"/>
<rect x="387" y="89" width="1" height="27" fill="#000"/>
<rect x="386" y="89" width="3" height="20" fill="#000"/>
<rect x="391" y="93" width="1" height="25" fill="#000"/>
<rect x="390" y="93" width="3" height="13" fill="#000"/>
<rect x="391" y="94" width="1" height="11" fill="#fff"/>
<rect x="395" y="87" width="1" height="13" fill="#000"/>
<rect x="394" y="87" width="3" height="5" fill="#000"/>
<rect x="395" y="88" width="1" height="3" fill="#fff"/>
<rect x="399" y="83" width="1" height="16" fill="#000"/>
<rect x="398" y="83" width="3" height="8" fill="#000"/>
<rect x="403" y="89" width="1" height="22" fill="#000"/>
<rect x="402" y="89" width="3" height="7" fill="#000"/>
<rect x="407" y="82" width="1" height="14" fill="#000"/>
<rect x="406" y="82" width="3" height="13" fill="#000"/>
<rect x="407" y="83" width="1" height="11" fill="#fff"/>
<rect x="411" y="79" width="1" height="17" fill="#000"/>
<rect x="410" y="87" width="3" height="4" fill="#000"/>
<rect x="415" y="90" width="1" height="13" fill="#000"/>
<rect x="414" y="95" width="3" height="2" fill="#000"/>
<rect x="419" y="95" width="1" height="20" fill="#000"/>
<rect x="418" y="95" width="3" height="4" fill="#000"/>
<rect x="419" y="96" width="1" height="2" fill="#fff"/>
<rect x="423" y="93" width="1" height="20" fill="#000"/>
<rect x="422" y="96" width="3" height="2" fill="#000"/>
<rect x="427" y="69" width="1" height="22" fill="#000"/>
<rect x="426" y="69" width="3" height="21" fill="#000"/>
<rect x="427" y="70" width="1" height="19" fill="#fff"/>
<rect x="431" y="70" width="1" height="17" fill="#000"/>
<rect x="430" y="70" width="3" height="15" fill="#000"/>
<rect x="435" y="62" width="1" height="24" fill="#000"/>
<rect x="434" y="64" width="3" height="15" fill="#000"/>
<rect x="435" y="65" width="1" height="13" fill="#fff"/>
<rect x="439" y="51" width="1" height="18" fill="#000"/>
<rect x="438" y="60" width="3" height="6" fill="#000"/>
<rect x="439" y="61" width="1" height="4" fill="#fff"/>
<rect x="443" y="48" width="1" height="16" fill="#000"/>
<rect x="442" y="50" width="3" height="4" fill="#000"/>
<rect x="443" y="51" width="1" height="2" fill="#fff"/>
<rect x="447" y="28" width="1" height="28" fill="#000"/>
<rect x="446" y="46" width="3" height="10" fill="#000"/>
<rect x="451" y="48" width="1" height="20" fill="#000"/>
<rect x="450" y="58" width="3" height="5" fill="#000"/>
<rect x="455" y="59" width="1" height="38" fill="#000"/>
<rect x="454" y="61" width="3" height="15" fill="#000"/>
<rect x="455" y="62" width="1" height="13" fill="#fff"/>
<rect x="459" y="33" width="1" height="21" fill="#000"/>
<rect x="458" y="33" width="3" height="8" fill="#000"/>
<rect x="459" y="34" width="1" height="6" fill="#fff"/>
<rect x="463" y="21" width="1" height="15" fill="#000"/>
<rect x="462" y="27" width="3" height="3" fill="#000"/>
<rect x="463" y="28" width="1" height="1" fill="#fff"/>
<rect x="467" y="30" width="1" height="35" fill="#000"/>
<rect x="466" y="41" width="3" height="18" fill="#000"/>
<rect x="471" y="51" width="1" height="14" fill="#000"/>
<rect x="470" y="51" width="3" height="8" fill="#000"/>
<rect x="471" y="52" width="1" height="6" fill="#fff"/>
<rect x="475" y="36" width="1" height="17" fill="#000"/>
<rect x="474" y="36" width="3" height="5" fill="#000"/>
<rect x="475" y="37" width="1" height="3" fill="#fff"/>
<rect x="479" y="34" width="1" height="17" fill="#000"/>
<rect x="478" y="34" width="3" height="16" fill="#000"/>
<rect x="483" y="38" width="1" height="21" fill="#000"/>
<rect x="482" y="43" width="3" height="4" fill="#000"/>
<rect x="483" y="44" width="1" height="2" fill="#fff"/>
<rect x="487" y="35" width="1" height="9" fill="#000"/>
<rect x="486" y="40" width="3" height="3" fill="#000"/>
<rect x="491" y="48" width="1" height="22" fill="#000"/>
<rect x="490" y="53" width="3" height="11" fill="#000"/>
<rect x="495" y="58" width="1" height="7" fill="#000"/>
<rect x="494" y="60" width="3" height="2" fill="#000"/>
<rect x="499" y="67" width="1" height="16" fill="#000"/>
<rect x="498" y="67" width="3" height="10" fill="#000"/>
<rect x="503" y="56" width="1" height="11" fill="#000"/>
<rect x="502" y="56" width="3" height="10" fill="#000"/>
<rect x="503" y="57" width="1" height="8" fill="#fff"/>
<rect x="507" y="45" width="1" height="19" fill="#000"/>
<rect x="506" y="48" width="3" height="6" fill="#000"/>
<rect x="511" y="51" width="1" height="13" fill="#000"/>
<rect x="510" y="54" width="3" height="2" fill="#000"/>
<rect x="515" y="29" width="1" height="25" fill="#000"/>
<rect x="514" y="33" width="3" height="14" fill="#000"/>
<rect x="515" y="34" width="1" height="12" fill="#fff"/>
<rect x="519" y="33" width="1" height="20" fill="#000"/>
<rect x="518" y="33" width="3" height="7" fill="#000"/>
<rect x="523" y="18" width="1" height="18" fill="#000"/>
<rect x="522" y="19" width="3" height="12" fill="#000"/>
<rect x="523" y="20" width="1" height="10" fill="#fff"/>
<rect x="527" y="17" width="1" height="19" fill="#000"/>
<rect x="526" y="20" width="3" height="11" fill="#000"/>
<rect x="531" y="23" width="1" height="17" fill="#000"/>
<rect x="530" y="27" width="3" height="8" fill="#000"/>
<rect x="535" y="37" width="1" height="25" fill="#000"/>
<rect x="534" y="47" width="3" height="14" fill="#000"/>
<rect x="535" y="48" width="1" height="12" fill="#fff"/>
<rect x="539" y="56" width="1" height="50" fill="#000"/>
<rect x="538" y="56" width="3" height="47" fill="#000"/>
<rect x="543" y="69" width="1" height="25" fill="#000"/>
<rect x="542" y="71" width="3" height="23" fill="#000"/>
<rect x="543" y="72" width="1" height="21" fill="#fff"/>
<rect x="547" y="59" width="1" height="22" fill="#000"/>
<rect x="546" y="71" width="3" height="3" fill="#000"/>
<rect x="551" y="66" width="1" height="39" fill="#000"/>
<rect x="550" y="66" width="3" height="33" fill="#000"/>
<rect x="555" y="97" width="1" height="29" fill="#000"/>
<rect x="554" y="100" width="3" height="17" fill="#000"/>
<rect x="555" y="101" width="1" height="15" fill="#fff"/>
<rect x="559" y="67" width="1" height="14" fill="#000"/>
<rect x="558" y="74" width="3" height="2" fill="#000"/>
<rect x="563" y="73" width="1" height="16" fill="#000"/>
<rect x="562" y="75" width="3" height="5" fill="#000"/>
<rect x="567" y="73" width="1" height="29" fill="#000"/>
<rect x="566" y="74" width="3" height="14" fill="#000"/>
<rect x="571" y="81" width="1" height="22" fill="#000"/>
<rect x="570" y="93" width="3" height="5" fill="#000"/>
<rect x="571" y="94" width="1" height="3" fill="#fff"/>
<rect x="575" y="82" width="1" height="18" fill="#000"/>
<rect x="574" y="87" width="3" height="5" fill="#000"/>
<rect x="575" y="88" width="1" height="3" fill="#fff"/>
<rect x="579" y="57" width="1" height="32" fill="#000"/>
<rect x="578" y="62" width="3" height="26" fill="#000"/>
<rect x="579" y="63" width="1" height="24" fill="#fff"/>
<rect x="583" y="45" width="1" height="26" fill="#000"/>
<rect x="582" y="55" width="3" height="15" fill="#000"/>
<rect x="587" y="78" width="1" height="18" fill="#000"/>
<rect x="586" y="78" width="3" height="15" fill="#000"/>
<rect x="591" y="81" width="1" height="28" fill="#000"/>
<rect x="590" y="85" width="3" height="19" fill="#000"/>
<rect x="595" y="86" width="1" height="59" fill="#000"/>
<rect x="594" y="95" width="3" height="26" fill="#000"/>
<rect x="595" y="96" width="1" height="24" fill="#fff"/>
<rect x="599" y="93" width="1" height="19" fill="#000"/>
<rect x="598" y="93" width="3" height="13" fill="#000"/>
<rect x="603" y="77" width="1" height="16" fill="#000"/>
<rect x="602" y="80" width="3" height="11" fill="#000"/>
<rect x="603" y="81" width="1" height="9" fill="#fff"/>
<rect x="607" y="81" width="1" height="10" fill="#000"/>
<rect x="606" y="82" width="3" height="2" fill="#000"/>
<rect x="611" y="82" width="1" height="26" fill="#000"/>
<rect x="610" y="82" width="3" height="14" fill="#000"/>
<rect x="615" y="79" width="1" height="27" fill="#000"/>
<rect x="614" y="90" width="3" height="7" fill="#000"/>
<rect x="615" y="91" width="1" height="5" fill="#fff"/>
<rect x="619" y="66" width="1" height="19" fill="#000"/>
<rect x="618" y="69" width="3" height="15" fill="#000"/>
<rect x="619" y="70" width="1" height="13" fill="#fff"/>
<rect x="623" y="42" width="1" height="11" fill="#000"/>
<rect x="622" y="46" width="3" height="2" fill="#000"/>
<rect x="627" y="55" width="1" height="10" fill="#000"/>
<rect x="626" y="56" width="3" height="7" fill="#000"/>
<rect x="627" y="57" width="1" height="5" fill="#fff"/>
</g>
</g>
<g shape-rendering="crispEdges" fill="none" stroke="#000" stroke-width="1">
<rect x="2.5" y="2.5" width="652" height="296"/>
<rect x="2.5" y="300.5" width="652" height="41"/>
<rect x="2.5" y="343.5" width="652" height="34"/>
<rect x="2.5" y="379.5" width="652" height="34"/>
<rect x="2.5" y="415.5" width="652" height="30"/>
<rect x="2.5" y="447.5" width="652" height="32"/>
</g>
<text x="6.9" y="14" fill="#000" font-size="10.2" textLength="64.5" lengthAdjust="spacingAndGlyphs" text-anchor="start">WIG20_T,Daily</text>
<text x="79.0" y="14" fill="#000" font-size="10.2" textLength="30.9" lengthAdjust="spacingAndGlyphs" text-anchor="start">3361.26</text>
<text x="114.3" y="14" fill="#000" font-size="10.2" textLength="33.1" lengthAdjust="spacingAndGlyphs" text-anchor="start">3380.43</text>
<text x="150.9" y="14" fill="#000" font-size="10.2" textLength="32.4" lengthAdjust="spacingAndGlyphs" text-anchor="start">3354.48</text>
<text x="187.2" y="14" fill="#000" font-size="10.2" textLength="31.4" lengthAdjust="spacingAndGlyphs" text-anchor="start">3378.34</text>
<g shape-rendering="crispEdges">
<rect x="655" y="31" width="2" height="1" fill="#000"/>
<rect x="655" y="63" width="2" height="1" fill="#000"/>
<rect x="655" y="96" width="2" height="1" fill="#000"/>
<rect x="655" y="130" width="2" height="1" fill="#000"/>
<rect x="655" y="162" width="2" height="1" fill="#000"/>
<rect x="655" y="195" width="2" height="1" fill="#000"/>
<rect x="655" y="229" width="2" height="1" fill="#000"/>
<rect x="655" y="261" width="2" height="1" fill="#000"/>
<rect x="655" y="294" width="2" height="1" fill="#000"/>
</g>
<text x="660" y="35" fill="#000" font-size="10.2" textLength="32.5" lengthAdjust="spacingAndGlyphs" text-anchor="start">3446.65</text>
<text x="660" y="68" fill="#000" font-size="10.2" textLength="32.5" lengthAdjust="spacingAndGlyphs" text-anchor="start">3355.90</text>
<text x="660" y="101" fill="#000" font-size="10.2" textLength="32.5" lengthAdjust="spacingAndGlyphs" text-anchor="start">3265.15</text>
<text x="660" y="134" fill="#000" font-size="10.2" textLength="32.5" lengthAdjust="spacingAndGlyphs" text-anchor="start">3171.65</text>
<text x="660" y="167" fill="#000" font-size="10.2" textLength="32.5" lengthAdjust="spacingAndGlyphs" text-anchor="start">3080.90</text>
<text x="660" y="200" fill="#000" font-size="10.2" textLength="32.5" lengthAdjust="spacingAndGlyphs" text-anchor="start">2990.15</text>
<text x="660" y="233" fill="#000" font-size="10.2" textLength="32.5" lengthAdjust="spacingAndGlyphs" text-anchor="start">2896.65</text>
<text x="660" y="266" fill="#000" font-size="10.2" textLength="32.5" lengthAdjust="spacingAndGlyphs" text-anchor="start">2805.90</text>
<text x="660" y="299" fill="#000" font-size="10.2" textLength="32.5" lengthAdjust="spacingAndGlyphs" text-anchor="start">2715.15</text>
<g shape-rendering="crispEdges">
<rect x="656" y="51" width="41" height="11" fill="#000"/>
</g>
<text x="660" y="60.6" fill="#fff" font-size="10.2" textLength="32.5" lengthAdjust="spacingAndGlyphs" text-anchor="start">3378.34</text>
<g shape-rendering="crispEdges">
<rect x="656" y="6" width="41" height="11" fill="#FF0000"/>
</g>
<text x="660" y="15.3" fill="#fff" font-size="10.2" textLength="32.5" lengthAdjust="spacingAndGlyphs" text-anchor="start">3500.00</text>
<g shape-rendering="crispEdges">
<rect x="656" y="42" width="41" height="11" fill="#FF0000"/>
</g>
<text x="660" y="51.3" fill="#fff" font-size="10.2" textLength="32.5" lengthAdjust="spacingAndGlyphs" text-anchor="start">3400.00</text>
<g shape-rendering="crispEdges">
<rect x="656" y="78" width="41" height="11" fill="#FF0000"/>
</g>
<text x="660" y="87.3" fill="#fff" font-size="10.2" textLength="32.5" lengthAdjust="spacingAndGlyphs" text-anchor="start">3300.00</text>
<g shape-rendering="crispEdges">
<rect x="656" y="114" width="41" height="11" fill="#FF0000"/>
</g>
<text x="660" y="123.3" fill="#fff" font-size="10.2" textLength="32.5" lengthAdjust="spacingAndGlyphs" text-anchor="start">3200.00</text>
<g shape-rendering="crispEdges">
<rect x="656" y="186" width="41" height="11" fill="#FF0000"/>
</g>
<text x="660" y="195.3" fill="#fff" font-size="10.2" textLength="32.5" lengthAdjust="spacingAndGlyphs" text-anchor="start">3000.00</text>
<g shape-rendering="crispEdges">
<rect x="2" y="319" width="3" height="2" fill="#00008B"/>
<rect x="6" y="318" width="3" height="3" fill="#00008B"/>
<rect x="10" y="318" width="3" height="3" fill="#00008B"/>
<rect x="14" y="317" width="3" height="4" fill="#00008B"/>
<rect x="18" y="323" width="3" height="5" fill="#00008B"/>
<rect x="22" y="323" width="3" height="7" fill="#00008B"/>
<rect x="26" y="323" width="3" height="7" fill="#00008B"/>
<rect x="30" y="323" width="3" height="10" fill="#00008B"/>
<rect x="34" y="323" width="3" height="13" fill="#00008B"/>
<rect x="38" y="323" width="3" height="15" fill="#00008B"/>
<rect x="42" y="323" width="3" height="17" fill="#00008B"/>
<rect x="46" y="323" width="3" height="14" fill="#00008B"/>
<rect x="50" y="323" width="3" height="13" fill="#00008B"/>
<rect x="54" y="323" width="3" height="7" fill="#00008B"/>
<rect x="58" y="323" width="3" height="5" fill="#00008B"/>
<rect x="62" y="323" width="3" height="1" fill="#00008B"/>
<rect x="82" y="319" width="3" height="2" fill="#00008B"/>
<rect x="90" y="323" width="3" height="2" fill="#00008B"/>
<rect x="94" y="323" width="3" height="3" fill="#00008B"/>
<rect x="98" y="323" width="3" height="3" fill="#00008B"/>
<rect x="102" y="323" width="3" height="3" fill="#00008B"/>
<rect x="106" y="323" width="3" height="2" fill="#00008B"/>
<rect x="110" y="323" width="3" height="1" fill="#00008B"/>
<rect x="130" y="319" width="3" height="2" fill="#00008B"/>
<rect x="134" y="318" width="3" height="3" fill="#00008B"/>
<rect x="138" y="318" width="3" height="3" fill="#00008B"/>
<rect x="142" y="319" width="3" height="2" fill="#00008B"/>
<rect x="146" y="319" width="3" height="2" fill="#00008B"/>
<rect x="150" y="318" width="3" height="3" fill="#00008B"/>
<rect x="154" y="318" width="3" height="3" fill="#00008B"/>
<rect x="158" y="318" width="3" height="3" fill="#00008B"/>
<rect x="162" y="319" width="3" height="2" fill="#00008B"/>
<rect x="166" y="320" width="3" height="1" fill="#00008B"/>
<rect x="170" y="319" width="3" height="2" fill="#00008B"/>
<rect x="174" y="318" width="3" height="3" fill="#00008B"/>
<rect x="178" y="319" width="3" height="2" fill="#00008B"/>
<rect x="182" y="318" width="3" height="3" fill="#00008B"/>
<rect x="186" y="317" width="3" height="4" fill="#00008B"/>
<rect x="190" y="314" width="3" height="7" fill="#00008B"/>
<rect x="194" y="311" width="3" height="10" fill="#00008B"/>
<rect x="198" y="311" width="3" height="10" fill="#00008B"/>
<rect x="202" y="312" width="3" height="9" fill="#00008B"/>
<rect x="206" y="309" width="3" height="12" fill="#00008B"/>
<rect x="210" y="309" width="3" height="12" fill="#00008B"/>
<rect x="214" y="311" width="3" height="10" fill="#00008B"/>
<rect x="218" y="316" width="3" height="5" fill="#00008B"/>
<rect x="222" y="318" width="3" height="3" fill="#00008B"/>
<rect x="226" y="320" width="3" height="1" fill="#00008B"/>
<rect x="242" y="319" width="3" height="2" fill="#00008B"/>
<rect x="246" y="318" width="3" height="3" fill="#00008B"/>
<rect x="250" y="318" width="3" height="3" fill="#00008B"/>
<rect x="258" y="323" width="3" height="3" fill="#00008B"/>
<rect x="262" y="323" width="3" height="8" fill="#00008B"/>
<rect x="266" y="323" width="3" height="5" fill="#00008B"/>
<rect x="270" y="323" width="3" height="3" fill="#00008B"/>
<rect x="274" y="323" width="3" height="5" fill="#00008B"/>
<rect x="278" y="323" width="3" height="5" fill="#00008B"/>
<rect x="282" y="323" width="3" height="2" fill="#00008B"/>
<rect x="286" y="319" width="3" height="2" fill="#00008B"/>
<rect x="290" y="318" width="3" height="3" fill="#00008B"/>
<rect x="294" y="318" width="3" height="3" fill="#00008B"/>
<rect x="298" y="318" width="3" height="3" fill="#00008B"/>
<rect x="306" y="323" width="3" height="2" fill="#00008B"/>
<rect x="310" y="323" width="3" height="2" fill="#00008B"/>
<rect x="314" y="323" width="3" height="2" fill="#00008B"/>
<rect x="318" y="323" width="3" height="1" fill="#00008B"/>
<rect x="322" y="319" width="3" height="2" fill="#00008B"/>
<rect x="326" y="317" width="3" height="4" fill="#00008B"/>
<rect x="330" y="313" width="3" height="8" fill="#00008B"/>
<rect x="334" y="311" width="3" height="10" fill="#00008B"/>
<rect x="338" y="307" width="3" height="14" fill="#00008B"/>
<rect x="342" y="309" width="3" height="12" fill="#00008B"/>
<rect x="346" y="310" width="3" height="11" fill="#00008B"/>
<rect x="350" y="312" width="3" height="9" fill="#00008B"/>
<rect x="354" y="310" width="3" height="11" fill="#00008B"/>
<rect x="358" y="309" width="3" height="12" fill="#00008B"/>
<rect x="362" y="310" width="3" height="11" fill="#00008B"/>
<rect x="366" y="311" width="3" height="10" fill="#00008B"/>
<rect x="370" y="311" width="3" height="10" fill="#00008B"/>
<rect x="374" y="307" width="3" height="14" fill="#00008B"/>
<rect x="378" y="306" width="3" height="15" fill="#00008B"/>
<rect x="382" y="303" width="3" height="18" fill="#00008B"/>
<rect x="386" y="310" width="3" height="11" fill="#00008B"/>
<rect x="390" y="310" width="3" height="11" fill="#00008B"/>
<rect x="394" y="310" width="3" height="11" fill="#00008B"/>
<rect x="398" y="311" width="3" height="10" fill="#00008B"/>
<rect x="402" y="315" width="3" height="6" fill="#00008B"/>
<rect x="406" y="313" width="3" height="8" fill="#00008B"/>
<rect x="410" y="316" width="3" height="5" fill="#00008B"/>
<rect x="414" y="318" width="3" height="3" fill="#00008B"/>
<rect x="418" y="320" width="3" height="1" fill="#00008B"/>
<rect x="426" y="315" width="3" height="6" fill="#00008B"/>
<rect x="430" y="318" width="3" height="3" fill="#00008B"/>
<rect x="434" y="314" width="3" height="7" fill="#00008B"/>
<rect x="438" y="312" width="3" height="9" fill="#00008B"/>
<rect x="442" y="310" width="3" height="11" fill="#00008B"/>
<rect x="446" y="312" width="3" height="9" fill="#00008B"/>
<rect x="450" y="315" width="3" height="6" fill="#00008B"/>
<rect x="454" y="316" width="3" height="5" fill="#00008B"/>
<rect x="458" y="311" width="3" height="10" fill="#00008B"/>
<rect x="462" y="309" width="3" height="12" fill="#00008B"/>
<rect x="466" y="316" width="3" height="5" fill="#00008B"/>
<rect x="470" y="318" width="3" height="3" fill="#00008B"/>
<rect x="474" y="316" width="3" height="5" fill="#00008B"/>
<rect x="478" y="318" width="3" height="3" fill="#00008B"/>
<rect x="482" y="318" width="3" height="3" fill="#00008B"/>
<rect x="486" y="319" width="3" height="2" fill="#00008B"/>
<rect x="490" y="323" width="3" height="1" fill="#00008B"/>
<rect x="494" y="323" width="3" height="3" fill="#00008B"/>
<rect x="498" y="323" width="3" height="6" fill="#00008B"/>
<rect x="502" y="323" width="3" height="3" fill="#00008B"/>
<rect x="514" y="317" width="3" height="4" fill="#00008B"/>
<rect x="518" y="317" width="3" height="4" fill="#00008B"/>
<rect x="522" y="313" width="3" height="8" fill="#00008B"/>
<rect x="526" y="314" width="3" height="7" fill="#00008B"/>
<rect x="530" y="317" width="3" height="4" fill="#00008B"/>
<rect x="538" y="323" width="3" height="11" fill="#00008B"/>
<rect x="542" y="323" width="3" height="8" fill="#00008B"/>
<rect x="546" y="323" width="3" height="9" fill="#00008B"/>
<rect x="550" y="323" width="3" height="13" fill="#00008B"/>
<rect x="554" y="323" width="3" height="13" fill="#00008B"/>
<rect x="558" y="323" width="3" height="8" fill="#00008B"/>
<rect x="562" y="323" width="3" height="5" fill="#00008B"/>
<rect x="566" y="323" width="3" height="5" fill="#00008B"/>
<rect x="570" y="323" width="3" height="5" fill="#00008B"/>
<rect x="574" y="323" width="3" height="4" fill="#00008B"/>
<rect x="578" y="320" width="3" height="1" fill="#00008B"/>
<rect x="582" y="319" width="3" height="2" fill="#00008B"/>
<rect x="590" y="323" width="3" height="5" fill="#00008B"/>
<rect x="594" y="323" width="3" height="5" fill="#00008B"/>
<rect x="598" y="323" width="3" height="7" fill="#00008B"/>
<rect x="602" y="323" width="3" height="1" fill="#00008B"/>
<rect x="606" y="323" width="3" height="1" fill="#00008B"/>
<rect x="610" y="323" width="3" height="1" fill="#00008B"/>
<rect x="614" y="323" width="3" height="1" fill="#00008B"/>
<rect x="618" y="318" width="3" height="3" fill="#00008B"/>
<rect x="622" y="312" width="3" height="9" fill="#00008B"/>
<rect x="626" y="312" width="3" height="9" fill="#00008B"/>
<rect x="3" y="321" width="653" height="2" fill="#000"/>
</g>
<g shape-rendering="crispEdges">
<path d="M382 307h15v1h-15zM376 308h24v1h-24zM210 309h7v1h-7zM347 309h19v1h-19zM372 309h10v1h-10zM397 309h6v1h-6zM207 310h14v1h-14zM345 310h31v1h-31zM400 310h7v1h-7zM204 311h6v1h-6zM217 311h7v1h-7zM342 311h5v1h-5zM366 311h6v1h-6zM403 311h7v1h-7zM202 312h5v1h-5zM221 312h5v1h-5zM340 312h5v1h-5zM407 312h6v1h-6zM447 312h22v1h-22zM199 313h5v1h-5zM224 313h3v1h-3zM339 313h3v1h-3zM410 313h6v1h-6zM444 313h33v1h-33zM196 314h6v1h-6zM226 314h3v1h-3zM338 314h3v1h-3zM413 314h6v1h-6zM441 314h6v1h-6zM469 314h11v1h-11zM194 315h5v1h-5zM227 315h4v1h-4zM336 315h3v1h-3zM416 315h6v1h-6zM438 315h6v1h-6zM477 315h5v1h-5zM528 315h8v1h-8zM2 316h3v1h-3zM191 316h5v1h-5zM229 316h3v1h-3zM335 316h3v1h-3zM419 316h6v1h-6zM435 316h6v1h-6zM480 316h5v1h-5zM525 316h12v1h-12zM2 317h13v1h-13zM154 317h9v1h-9zM186 317h8v1h-8zM231 317h3v1h-3zM334 317h2v1h-2zM422 317h16v1h-16zM482 317h6v1h-6zM523 317h5v1h-5zM536 317h2v1h-2zM5 318h12v1h-12zM141 318h28v1h-28zM177 318h14v1h-14zM232 318h3v1h-3zM302 318h5v1h-5zM333 318h2v1h-2zM424 318h11v1h-11zM485 318h5v1h-5zM522 318h3v1h-3zM537 318h2v1h-2zM625 318h3v1h-3zM15 319h4v1h-4zM133 319h21v1h-21zM163 319h23v1h-23zM234 319h27v1h-27zM298 319h13v1h-13zM331 319h3v1h-3zM488 319h5v1h-5zM521 319h2v1h-2zM538 319h3v1h-3zM623 319h5v1h-5zM17 320h4v1h-4zM129 320h12v1h-12zM169 320h8v1h-8zM235 320h27v1h-27zM295 320h7v1h-7zM307 320h7v1h-7zM329 320h4v1h-4zM490 320h6v1h-6zM519 320h3v1h-3zM539 320h3v1h-3zM621 320h4v1h-4zM19 321h4v1h-4zM81 321h7v1h-7zM125 321h8v1h-8zM261 321h3v1h-3zM293 321h5v1h-5zM311 321h7v1h-7zM327 321h4v1h-4zM493 321h5v1h-5zM518 321h3v1h-3zM541 321h2v1h-2zM619 321h4v1h-4zM21 322h4v1h-4zM75 322h18v1h-18zM121 322h8v1h-8zM262 322h3v1h-3zM291 322h4v1h-4zM314 322h15v1h-15zM496 322h5v1h-5zM515 322h4v1h-4zM542 322h2v1h-2zM617 322h4v1h-4zM23 323h4v1h-4zM73 323h8v1h-8zM88 323h13v1h-13zM112 323h13v1h-13zM264 323h4v1h-4zM289 323h4v1h-4zM318 323h9v1h-9zM498 323h5v1h-5zM513 323h5v1h-5zM543 323h2v1h-2zM585 323h11v1h-11zM615 323h4v1h-4zM25 324h4v1h-4zM71 324h4v1h-4zM93 324h28v1h-28zM265 324h6v1h-6zM286 324h5v1h-5zM501 324h14v1h-14zM544 324h2v1h-2zM581 324h19v1h-19zM612 324h5v1h-5zM27 325h4v1h-4zM69 325h4v1h-4zM101 325h11v1h-11zM268 325h6v1h-6zM282 325h7v1h-7zM503 325h10v1h-10zM545 325h2v1h-2zM579 325h6v1h-6zM596 325h19v1h-19zM29 326h3v1h-3zM68 326h3v1h-3zM271 326h15v1h-15zM546 326h3v1h-3zM577 326h4v1h-4zM600 326h13v1h-13zM31 327h3v1h-3zM67 327h2v1h-2zM274 327h8v1h-8zM547 327h3v1h-3zM574 327h5v1h-5zM32 328h3v1h-3zM65 328h3v1h-3zM278 328h1v1h-1zM549 328h3v1h-3zM572 328h5v1h-5zM34 329h3v1h-3zM64 329h3v1h-3zM550 329h4v1h-4zM567 329h7v1h-7zM35 330h4v1h-4zM63 330h2v1h-2zM552 330h3v1h-3zM560 330h13v1h-13zM37 331h3v1h-3zM62 331h2v1h-2zM554 331h13v1h-13zM39 332h3v1h-3zM61 332h2v1h-2zM555 332h5v1h-5zM40 333h4v1h-4zM59 333h3v1h-3zM42 334h4v1h-4zM57 334h4v1h-4zM44 335h15v1h-15zM46 336h11v1h-11z" fill="#FF0000"/>
</g>
<text x="7.6" y="313" fill="#000" font-size="10.2" textLength="60.4" lengthAdjust="spacingAndGlyphs" text-anchor="start">MACD(3,10,5)</text>
<text x="72" y="313" fill="#000" font-size="10.2" textLength="26.4" lengthAdjust="spacingAndGlyphs" text-anchor="start">39.911</text>
<text x="103" y="313" fill="#000" font-size="10.2" textLength="27" lengthAdjust="spacingAndGlyphs" text-anchor="start">16.466</text>
<g shape-rendering="crispEdges">
<rect x="656" y="317" width="7" height="10" fill="#000"/>
<rect x="655" y="301" width="1" height="1" fill="#000"/>
<rect x="655" y="340" width="1" height="1" fill="#000"/>
</g>
<text x="658.3" y="311" fill="#000" font-size="10.2" textLength="27.5" lengthAdjust="spacingAndGlyphs" text-anchor="start">83.269</text>
<text x="658.3" y="325.5" fill="#000" font-size="10.2" textLength="18.5" lengthAdjust="spacingAndGlyphs" text-anchor="start">0.00</text>
<clipPath id="cz"><rect x="656" y="317" width="7" height="10"/></clipPath>
<text x="658.3" y="325.5" fill="#fff" font-size="10.2" textLength="18.5" lengthAdjust="spacingAndGlyphs" text-anchor="start" clip-path="url(#cz)">0.00</text>
<text x="658.3" y="337.5" fill="#000" font-size="10.2" textLength="30.5" lengthAdjust="spacingAndGlyphs" text-anchor="start">-76.923</text>
<g shape-rendering="crispEdges">
<path d="M584 346h14v1h-14zM581 347h3v1h-3zM598 347h6v1h-6zM570 348h1v1h-1zM578 348h3v1h-3zM604 348h1v1h-1zM568 349h10v1h-10zM605 349h2v1h-2zM560 350h8v1h-8zM607 350h1v1h-1zM555 351h5v1h-5zM608 351h7v1h-7zM616 351h10v1h-10zM552 352h3v1h-3zM615 352h1v1h-1zM626 352h1v1h-1zM551 353h2v1h-2zM550 354h1v1h-1zM549 355h1v1h-1zM548 356h1v1h-1zM64 357h7v1h-7zM543 357h5v1h-5zM19 358h4v1h-4zM25 358h9v1h-9zM45 358h19v1h-19zM71 358h2v1h-2zM467 358h13v1h-13zM541 358h2v1h-2zM18 359h1v1h-1zM23 359h2v1h-2zM34 359h4v1h-4zM40 359h5v1h-5zM73 359h2v1h-2zM465 359h2v1h-2zM480 359h6v1h-6zM17 360h1v1h-1zM38 360h2v1h-2zM75 360h1v1h-1zM463 360h2v1h-2zM486 360h4v1h-4zM539 360h2v1h-2zM16 361h1v1h-1zM76 361h4v1h-4zM457 361h6v1h-6zM490 361h13v1h-13zM2 362h14v1h-14zM80 362h6v1h-6zM280 362h10v1h-10zM455 362h2v1h-2zM494 362h1v1h-1zM503 362h4v1h-4zM537 362h2v1h-2zM86 363h4v1h-4zM276 363h4v1h-4zM290 363h3v1h-3zM426 363h2v1h-2zM434 363h5v1h-5zM453 363h2v1h-2zM507 363h2v1h-2zM90 364h3v1h-3zM272 364h4v1h-4zM293 364h2v1h-2zM423 364h3v1h-3zM428 364h6v1h-6zM439 364h3v1h-3zM451 364h2v1h-2zM509 364h1v1h-1zM535 364h2v1h-2zM93 365h2v1h-2zM261 365h11v1h-11zM295 365h9v1h-9zM419 365h4v1h-4zM430 365h1v1h-1zM442 365h3v1h-3zM449 365h2v1h-2zM510 365h11v1h-11zM531 365h5v1h-5zM95 366h2v1h-2zM258 366h4v1h-4zM304 366h6v1h-6zM389 366h3v1h-3zM413 366h6v1h-6zM444 366h5v1h-5zM511 366h1v1h-1zM521 366h3v1h-3zM526 366h5v1h-5zM97 367h3v1h-3zM255 367h3v1h-3zM310 367h2v1h-2zM387 367h2v1h-2zM392 367h2v1h-2zM400 367h13v1h-13zM524 367h2v1h-2zM100 368h2v1h-2zM192 368h1v1h-1zM207 368h17v1h-17zM252 368h3v1h-3zM312 368h3v1h-3zM385 368h2v1h-2zM394 368h1v1h-1zM396 368h4v1h-4zM102 369h3v1h-3zM181 369h5v1h-5zM188 369h10v1h-10zM202 369h5v1h-5zM224 369h3v1h-3zM241 369h12v1h-12zM315 369h2v1h-2zM376 369h1v1h-1zM383 369h2v1h-2zM395 369h1v1h-1zM105 370h9v1h-9zM179 370h2v1h-2zM186 370h2v1h-2zM198 370h4v1h-4zM227 370h6v1h-6zM237 370h4v1h-4zM317 370h2v1h-2zM373 370h3v1h-3zM377 370h2v1h-2zM381 370h2v1h-2zM114 371h5v1h-5zM168 371h6v1h-6zM176 371h3v1h-3zM233 371h4v1h-4zM319 371h5v1h-5zM343 371h14v1h-14zM370 371h3v1h-3zM379 371h2v1h-2zM119 372h3v1h-3zM161 372h7v1h-7zM174 372h2v1h-2zM324 372h7v1h-7zM333 372h10v1h-10zM357 372h9v1h-9zM367 372h3v1h-3zM122 373h3v1h-3zM147 373h14v1h-14zM331 373h2v1h-2zM366 373h2v1h-2zM125 374h22v1h-22z" fill="#1E90FF"/>
<rect x="655" y="344" width="1" height="1" fill="#000"/>
<rect x="655" y="376" width="1" height="1" fill="#000"/>
</g>
<text x="7.8" y="356" fill="#000" font-size="10.2" textLength="34.7" lengthAdjust="spacingAndGlyphs" text-anchor="start">ATR(14)</text>
<text x="45.5" y="356" fill="#000" font-size="10.2" textLength="31.9" lengthAdjust="spacingAndGlyphs" text-anchor="start">71.7607</text>
<text x="658.3" y="353.7" fill="#000" font-size="10.2" textLength="32.5" lengthAdjust="spacingAndGlyphs" text-anchor="start">82.5283</text>
<text x="658.3" y="374" fill="#000" font-size="10.2" textLength="32.5" lengthAdjust="spacingAndGlyphs" text-anchor="start">34.7789</text>
<g shape-rendering="crispEdges">
<line x1="3" y1="390.5" x2="654" y2="390.5" stroke="#C0C0C0" stroke-dasharray="3,3"/>
<line x1="3" y1="403.5" x2="654" y2="403.5" stroke="#C0C0C0" stroke-dasharray="3,3"/>
<path d="M382 386h1v1h-1zM377 387h5v1h-5zM383 387h1v1h-1zM373 388h4v1h-4zM384 388h1v1h-1zM206 389h8v1h-8zM370 389h3v1h-3zM385 389h1v1h-1zM460 389h3v1h-3zM203 390h3v1h-3zM214 390h2v1h-2zM336 390h6v1h-6zM352 390h9v1h-9zM366 390h4v1h-4zM386 390h1v1h-1zM392 390h6v1h-6zM426 390h2v1h-2zM437 390h1v1h-1zM456 390h4v1h-4zM463 390h2v1h-2zM194 391h10v1h-10zM216 391h2v1h-2zM221 391h3v1h-3zM332 391h4v1h-4zM342 391h10v1h-10zM361 391h5v1h-5zM387 391h5v1h-5zM398 391h4v1h-4zM423 391h3v1h-3zM428 391h2v1h-2zM434 391h22v1h-22zM191 392h3v1h-3zM218 392h3v1h-3zM224 392h2v1h-2zM248 392h5v1h-5zM329 392h3v1h-3zM346 392h1v1h-1zM388 392h1v1h-1zM402 392h21v1h-21zM430 392h4v1h-4zM452 392h1v1h-1zM465 392h2v1h-2zM470 392h7v1h-7zM518 392h9v1h-9zM10 393h1v1h-1zM15 393h2v1h-2zM182 393h4v1h-4zM188 393h3v1h-3zM226 393h2v1h-2zM231 393h6v1h-6zM241 393h7v1h-7zM253 393h1v1h-1zM326 393h3v1h-3zM467 393h3v1h-3zM477 393h13v1h-13zM512 393h6v1h-6zM527 393h4v1h-4zM6 394h4v1h-4zM11 394h4v1h-4zM16 394h1v1h-1zM136 394h1v1h-1zM172 394h1v1h-1zM180 394h2v1h-2zM186 394h2v1h-2zM228 394h3v1h-3zM237 394h4v1h-4zM254 394h2v1h-2zM286 394h3v1h-3zM296 394h5v1h-5zM323 394h3v1h-3zM490 394h2v1h-2zM506 394h6v1h-6zM531 394h4v1h-4zM622 394h3v1h-3zM2 395h4v1h-4zM17 395h1v1h-1zM129 395h13v1h-13zM147 395h14v1h-14zM171 395h6v1h-6zM178 395h2v1h-2zM256 395h2v1h-2zM283 395h3v1h-3zM289 395h7v1h-7zM301 395h2v1h-2zM321 395h2v1h-2zM492 395h2v1h-2zM502 395h4v1h-4zM534 395h1v1h-1zM619 395h3v1h-3zM625 395h2v1h-2zM18 396h1v1h-1zM76 396h1v1h-1zM82 396h4v1h-4zM110 396h1v1h-1zM120 396h9v1h-9zM142 396h1v1h-1zM145 396h2v1h-2zM161 396h4v1h-4zM168 396h3v1h-3zM177 396h1v1h-1zM258 396h2v1h-2zM269 396h2v1h-2zM281 396h2v1h-2zM303 396h3v1h-3zM319 396h2v1h-2zM494 396h8v1h-8zM535 396h1v1h-1zM579 396h6v1h-6zM616 396h3v1h-3zM19 397h1v1h-1zM62 397h6v1h-6zM73 397h9v1h-9zM86 397h4v1h-4zM106 397h8v1h-8zM117 397h3v1h-3zM143 397h2v1h-2zM165 397h3v1h-3zM260 397h2v1h-2zM266 397h3v1h-3zM271 397h3v1h-3zM278 397h3v1h-3zM306 397h13v1h-13zM536 397h1v1h-1zM543 397h3v1h-3zM557 397h8v1h-8zM575 397h4v1h-4zM585 397h4v1h-4zM601 397h15v1h-15zM20 398h10v1h-10zM56 398h6v1h-6zM68 398h5v1h-5zM80 398h1v1h-1zM89 398h17v1h-17zM114 398h3v1h-3zM262 398h4v1h-4zM274 398h4v1h-4zM537 398h1v1h-1zM541 398h2v1h-2zM546 398h11v1h-11zM565 398h10v1h-10zM589 398h12v1h-12zM30 399h4v1h-4zM53 399h4v1h-4zM538 399h3v1h-3zM34 400h19v1h-19z" fill="#FF0000"/>
<rect x="655" y="380" width="1" height="1" fill="#000"/>
<rect x="655" y="412" width="1" height="1" fill="#000"/>
</g>
<text x="7.8" y="392" fill="#000" font-size="10.2" textLength="31.1" lengthAdjust="spacingAndGlyphs" text-anchor="start">RSI(14)</text>
<text x="42.5" y="392" fill="#000" font-size="10.2" textLength="32.5" lengthAdjust="spacingAndGlyphs" text-anchor="start">55.7747</text>
<text x="658.3" y="390" fill="#000" font-size="10.2" textLength="14.3" lengthAdjust="spacingAndGlyphs" text-anchor="start">100</text>
<text x="658.3" y="394.3" fill="#000" font-size="10.2" textLength="9.5" lengthAdjust="spacingAndGlyphs" text-anchor="start">70</text>
<text x="658.3" y="406.5" fill="#000" font-size="10.2" textLength="9.5" lengthAdjust="spacingAndGlyphs" text-anchor="start">30</text>
<text x="658.3" y="410" fill="#000" font-size="10.2" textLength="4.6" lengthAdjust="spacingAndGlyphs" text-anchor="start">0</text>
<g shape-rendering="crispEdges">
<path d="M378 424h3v1h-3zM463 424h1v1h-1zM358 425h2v1h-2zM372 425h2v1h-2zM385 425h1v1h-1zM463 425h2v1h-2zM336 426h3v1h-3zM343 426h1v1h-1zM357 426h2v1h-2zM371 426h1v1h-1zM386 426h1v1h-1zM462 426h1v1h-1zM478 426h1v1h-1zM344 427h1v1h-1zM387 427h1v1h-1zM476 427h3v1h-3zM190 428h2v1h-2zM196 428h3v1h-3zM203 428h3v1h-3zM345 428h1v1h-1zM364 428h1v1h-1zM392 428h3v1h-3zM399 428h1v1h-1zM448 428h1v1h-1zM469 428h2v1h-2zM483 428h3v1h-3zM189 429h1v1h-1zM210 429h3v1h-3zM331 429h1v1h-1zM365 429h2v1h-2zM400 429h2v1h-2zM441 429h3v1h-3zM449 429h2v1h-2zM457 429h1v1h-1zM470 429h2v1h-2zM330 430h1v1h-1zM456 430h1v1h-1zM520 430h1v1h-1zM525 430h2v1h-2zM135 431h1v1h-1zM217 431h3v1h-3zM287 431h3v1h-3zM329 431h1v1h-1zM352 431h1v1h-1zM406 431h3v1h-3zM436 431h1v1h-1zM455 431h1v1h-1zM490 431h2v1h-2zM518 431h2v1h-2zM527 431h1v1h-1zM133 432h2v1h-2zM184 432h1v1h-1zM247 432h1v1h-1zM280 432h3v1h-3zM294 432h1v1h-1zM350 432h2v1h-2zM413 432h3v1h-3zM429 432h1v1h-1zM434 432h2v1h-2zM492 432h1v1h-1zM504 432h3v1h-3zM511 432h3v1h-3zM560 432h1v1h-1zM583 432h1v1h-1zM624 432h1v1h-1zM128 433h1v1h-1zM140 433h2v1h-2zM182 433h2v1h-2zM245 433h2v1h-2zM252 433h1v1h-1zM273 433h3v1h-3zM295 433h2v1h-2zM420 433h3v1h-3zM427 433h2v1h-2zM532 433h3v1h-3zM561 433h2v1h-2zM581 433h2v1h-2zM623 433h1v1h-1zM14 434h3v1h-3zM126 434h3v1h-3zM142 434h1v1h-1zM147 434h3v1h-3zM224 434h3v1h-3zM240 434h1v1h-1zM253 434h2v1h-2zM261 434h1v1h-1zM266 434h3v1h-3zM301 434h3v1h-3zM308 434h1v1h-1zM323 434h2v1h-2zM497 434h3v1h-3zM588 434h2v1h-2zM617 434h2v1h-2zM7 435h3v1h-3zM56 435h2v1h-2zM77 435h3v1h-3zM154 435h3v1h-3zM175 435h3v1h-3zM238 435h2v1h-2zM259 435h2v1h-2zM309 435h2v1h-2zM315 435h3v1h-3zM322 435h1v1h-1zM539 435h1v1h-1zM555 435h1v1h-1zM567 435h2v1h-2zM574 435h3v1h-3zM590 435h1v1h-1zM616 435h1v1h-1zM2 436h1v1h-1zM21 436h3v1h-3zM58 436h1v1h-1zM63 436h3v1h-3zM70 436h3v1h-3zM84 436h2v1h-2zM105 436h3v1h-3zM231 436h3v1h-3zM540 436h2v1h-2zM546 436h2v1h-2zM554 436h1v1h-1zM569 436h1v1h-1zM595 436h3v1h-3zM609 436h3v1h-3zM28 437h1v1h-1zM70 437h1v1h-1zM86 437h1v1h-1zM100 437h1v1h-1zM112 437h2v1h-2zM120 437h2v1h-2zM161 437h2v1h-2zM169 437h2v1h-2zM548 437h1v1h-1zM553 437h1v1h-1zM602 437h3v1h-3zM29 438h2v1h-2zM51 438h1v1h-1zM91 438h3v1h-3zM98 438h2v1h-2zM114 438h1v1h-1zM119 438h1v1h-1zM163 438h1v1h-1zM168 438h1v1h-1zM35 439h2v1h-2zM49 439h2v1h-2zM37 440h1v1h-1zM42 441h3v1h-3z" fill="#008000"/>
<path d="M561 429h2v1h-2zM595 429h1v1h-1zM42 430h3v1h-3zM49 430h1v1h-1zM560 430h1v1h-1zM567 430h2v1h-2zM589 430h2v1h-2zM596 430h2v1h-2zM50 431h2v1h-2zM261 431h1v1h-1zM266 431h3v1h-3zM273 431h3v1h-3zM280 431h3v1h-3zM497 431h3v1h-3zM504 431h1v1h-1zM554 431h2v1h-2zM569 431h1v1h-1zM588 431h1v1h-1zM602 431h3v1h-3zM37 432h1v1h-1zM105 432h3v1h-3zM260 432h2v1h-2zM282 432h1v1h-1zM287 432h3v1h-3zM308 432h3v1h-3zM492 432h1v1h-1zM505 432h2v1h-2zM539 432h1v1h-1zM553 432h1v1h-1zM574 432h3v1h-3zM581 432h3v1h-3zM609 432h3v1h-3zM36 433h1v1h-1zM112 433h3v1h-3zM259 433h1v1h-1zM294 433h3v1h-3zM301 433h3v1h-3zM490 433h2v1h-2zM540 433h2v1h-2zM35 434h1v1h-1zM56 434h2v1h-2zM70 434h2v1h-2zM92 434h2v1h-2zM100 434h1v1h-1zM119 434h3v1h-3zM161 434h3v1h-3zM168 434h3v1h-3zM182 434h3v1h-3zM420 434h3v1h-3zM469 434h3v1h-3zM511 434h2v1h-2zM546 434h3v1h-3zM616 434h3v1h-3zM58 435h1v1h-1zM72 435h1v1h-1zM77 435h3v1h-3zM84 435h1v1h-1zM91 435h1v1h-1zM98 435h2v1h-2zM126 435h3v1h-3zM133 435h3v1h-3zM175 435h3v1h-3zM189 435h2v1h-2zM315 435h2v1h-2zM457 435h1v1h-1zM462 435h2v1h-2zM476 435h3v1h-3zM512 435h2v1h-2zM534 435h1v1h-1zM28 436h3v1h-3zM63 436h3v1h-3zM85 436h2v1h-2zM140 436h3v1h-3zM147 436h3v1h-3zM154 436h3v1h-3zM191 436h1v1h-1zM225 436h2v1h-2zM231 436h3v1h-3zM238 436h3v1h-3zM245 436h3v1h-3zM252 436h3v1h-3zM317 436h1v1h-1zM427 436h3v1h-3zM455 436h2v1h-2zM464 436h1v1h-1zM483 436h3v1h-3zM533 436h1v1h-1zM623 436h3v1h-3zM2 437h1v1h-1zM21 437h3v1h-3zM196 437h1v1h-1zM224 437h1v1h-1zM414 437h2v1h-2zM434 437h1v1h-1zM518 437h3v1h-3zM532 437h1v1h-1zM7 438h3v1h-3zM197 438h2v1h-2zM322 438h3v1h-3zM350 438h2v1h-2zM413 438h1v1h-1zM435 438h2v1h-2zM525 438h2v1h-2zM14 439h3v1h-3zM203 439h1v1h-1zM218 439h2v1h-2zM329 439h1v1h-1zM352 439h1v1h-1zM392 439h3v1h-3zM399 439h3v1h-3zM406 439h3v1h-3zM441 439h3v1h-3zM449 439h2v1h-2zM527 439h1v1h-1zM15 440h1v1h-1zM204 440h2v1h-2zM217 440h1v1h-1zM330 440h2v1h-2zM336 440h3v1h-3zM345 440h1v1h-1zM357 440h3v1h-3zM387 440h1v1h-1zM448 440h1v1h-1zM210 441h3v1h-3zM343 441h2v1h-2zM364 441h3v1h-3zM385 441h2v1h-2zM371 442h3v1h-3zM378 442h3v1h-3z" fill="#FF0000"/>
<path d="M382 417h9v1h-9zM380 418h2v1h-2zM391 418h10v1h-10zM377 419h3v1h-3zM401 419h4v1h-4zM374 420h3v1h-3zM405 420h4v1h-4zM371 421h3v1h-3zM409 421h4v1h-4zM368 422h3v1h-3zM413 422h3v1h-3zM365 423h3v1h-3zM416 423h1v1h-1zM362 424h3v1h-3zM417 424h2v1h-2zM360 425h2v1h-2zM419 425h2v1h-2zM358 426h2v1h-2zM421 426h2v1h-2zM447 426h3v1h-3zM213 427h8v1h-8zM355 427h3v1h-3zM423 427h2v1h-2zM445 427h2v1h-2zM450 427h3v1h-3zM210 428h3v1h-3zM221 428h4v1h-4zM343 428h13v1h-13zM425 428h4v1h-4zM442 428h3v1h-3zM453 428h3v1h-3zM208 429h2v1h-2zM224 429h2v1h-2zM341 429h2v1h-2zM429 429h13v1h-13zM456 429h13v1h-13zM45 430h9v1h-9zM205 430h3v1h-3zM226 430h3v1h-3zM339 430h2v1h-2zM469 430h4v1h-4zM42 431h3v1h-3zM54 431h3v1h-3zM203 431h2v1h-2zM229 431h2v1h-2zM338 431h1v1h-1zM473 431h17v1h-17zM41 432h1v1h-1zM57 432h2v1h-2zM200 432h3v1h-3zM231 432h4v1h-4zM336 432h2v1h-2zM490 432h2v1h-2zM529 432h2v1h-2zM39 433h2v1h-2zM59 433h2v1h-2zM198 433h2v1h-2zM235 433h5v1h-5zM334 433h2v1h-2zM492 433h2v1h-2zM525 433h4v1h-4zM531 433h7v1h-7zM16 434h1v1h-1zM38 434h1v1h-1zM61 434h1v1h-1zM110 434h8v1h-8zM195 434h3v1h-3zM240 434h2v1h-2zM244 434h14v1h-14zM332 434h2v1h-2zM494 434h2v1h-2zM522 434h3v1h-3zM538 434h7v1h-7zM2 435h17v1h-17zM35 435h3v1h-3zM62 435h5v1h-5zM107 435h3v1h-3zM118 435h5v1h-5zM193 435h2v1h-2zM242 435h2v1h-2zM258 435h5v1h-5zM330 435h2v1h-2zM496 435h5v1h-5zM519 435h3v1h-3zM545 435h30v1h-30zM609 435h5v1h-5zM19 436h2v1h-2zM32 436h3v1h-3zM67 436h7v1h-7zM103 436h4v1h-4zM123 436h8v1h-8zM190 436h3v1h-3zM263 436h9v1h-9zM284 436h13v1h-13zM329 436h1v1h-1zM501 436h5v1h-5zM512 436h7v1h-7zM575 436h9v1h-9zM592 436h17v1h-17zM614 436h13v1h-13zM21 437h12v1h-12zM74 437h8v1h-8zM98 437h5v1h-5zM130 437h19v1h-19zM188 437h2v1h-2zM272 437h12v1h-12zM297 437h8v1h-8zM327 437h2v1h-2zM506 437h6v1h-6zM584 437h8v1h-8zM82 438h16v1h-16zM149 438h19v1h-19zM188 438h1v1h-1zM305 438h6v1h-6zM326 438h1v1h-1zM168 439h21v1h-21zM311 439h6v1h-6zM325 439h1v1h-1zM317 440h8v1h-8z" fill="#000"/>
<rect x="655" y="416" width="1" height="1" fill="#000"/>
<rect x="655" y="444" width="1" height="1" fill="#000"/>
</g>
<text x="7.8" y="428" fill="#000" font-size="10.2" textLength="34.7" lengthAdjust="spacingAndGlyphs" text-anchor="start">ADX(14)</text>
<text x="45.5" y="428" fill="#000" font-size="10.2" textLength="31.9" lengthAdjust="spacingAndGlyphs" text-anchor="start">17.6659</text>
<text x="81.4" y="428" fill="#000" font-size="10.2" textLength="53.5" lengthAdjust="spacingAndGlyphs" text-anchor="start">+DI:25.3772</text>
<text x="139.2" y="428" fill="#000" font-size="10.2" textLength="48.6" lengthAdjust="spacingAndGlyphs" text-anchor="start">-DI:26.3309</text>
<text x="658.3" y="425.5" fill="#000" font-size="10.2" textLength="9.5" lengthAdjust="spacingAndGlyphs" text-anchor="start">62</text>
<text x="658.3" y="441.7" fill="#000" font-size="10.2" textLength="4.6" lengthAdjust="spacingAndGlyphs" text-anchor="start">2</text>
<g shape-rendering="crispEdges">
<rect x="3" y="451" width="1" height="28" fill="#008000"/>
<rect x="7" y="451" width="1" height="28" fill="#FF0000"/>
<rect x="11" y="451" width="1" height="28" fill="#FF0000"/>
<rect x="15" y="451" width="1" height="28" fill="#008000"/>
<rect x="19" y="451" width="1" height="28" fill="#008000"/>
<rect x="23" y="451" width="1" height="28" fill="#FF0000"/>
<rect x="27" y="451" width="1" height="28" fill="#008000"/>
<rect x="31" y="451" width="1" height="28" fill="#008000"/>
<rect x="35" y="451" width="1" height="28" fill="#008000"/>
<rect x="39" y="451" width="1" height="28" fill="#FF0000"/>
<rect x="43" y="451" width="1" height="28" fill="#008000"/>
<rect x="47" y="451" width="1" height="28" fill="#FF0000"/>
<rect x="51" y="451" width="1" height="28" fill="#008000"/>
<rect x="55" y="451" width="1" height="28" fill="#FF0000"/>
<rect x="59" y="451" width="1" height="28" fill="#008000"/>
<rect x="63" y="451" width="1" height="28" fill="#FF0000"/>
<rect x="67" y="452" width="1" height="27" fill="#FF0000"/>
<rect x="71" y="451" width="1" height="28" fill="#008000"/>
<rect x="75" y="451" width="1" height="28" fill="#FF0000"/>
<rect x="79" y="451" width="1" height="28" fill="#FF0000"/>
<rect x="83" y="451" width="1" height="28" fill="#FF0000"/>
<rect x="87" y="451" width="1" height="28" fill="#FF0000"/>
<rect x="91" y="452" width="1" height="27" fill="#FF0000"/>
<rect x="95" y="451" width="1" height="28" fill="#008000"/>
<rect x="99" y="451" width="1" height="28" fill="#FF0000"/>
<rect x="103" y="451" width="1" height="28" fill="#008000"/>
<rect x="107" y="451" width="1" height="28" fill="#FF0000"/>
<rect x="111" y="451" width="1" height="28" fill="#008000"/>
<rect x="115" y="451" width="1" height="28" fill="#008000"/>
<rect x="119" y="451" width="1" height="28" fill="#008000"/>
<rect x="123" y="451" width="1" height="28" fill="#FF0000"/>
<rect x="127" y="451" width="1" height="28" fill="#008000"/>
<rect x="131" y="451" width="1" height="28" fill="#008000"/>
<rect x="135" y="451" width="1" height="28" fill="#FF0000"/>
<rect x="139" y="451" width="1" height="28" fill="#FF0000"/>
<rect x="143" y="451" width="1" height="28" fill="#FF0000"/>
<rect x="147" y="451" width="1" height="28" fill="#008000"/>
<rect x="151" y="451" width="1" height="28" fill="#008000"/>
<rect x="155" y="451" width="1" height="28" fill="#FF0000"/>
<rect x="159" y="451" width="1" height="28" fill="#008000"/>
<rect x="163" y="451" width="1" height="28" fill="#FF0000"/>
<rect x="167" y="451" width="1" height="28" fill="#008000"/>
<rect x="171" y="451" width="1" height="28" fill="#FF0000"/>
<rect x="175" y="451" width="1" height="28" fill="#008000"/>
<rect x="179" y="451" width="1" height="28" fill="#008000"/>
<rect x="183" y="451" width="1" height="28" fill="#FF0000"/>
<rect x="187" y="451" width="1" height="28" fill="#008000"/>
<rect x="191" y="451" width="1" height="28" fill="#FF0000"/>
<rect x="195" y="451" width="1" height="28" fill="#008000"/>
<rect x="199" y="451" width="1" height="28" fill="#FF0000"/>
<rect x="203" y="451" width="1" height="28" fill="#008000"/>
<rect x="207" y="451" width="1" height="28" fill="#FF0000"/>
<rect x="211" y="451" width="1" height="28" fill="#008000"/>
<rect x="215" y="451" width="1" height="28" fill="#008000"/>
<rect x="219" y="451" width="1" height="28" fill="#FF0000"/>
<rect x="223" y="451" width="1" height="28" fill="#FF0000"/>
<rect x="227" y="451" width="1" height="28" fill="#FF0000"/>
<rect x="231" y="451" width="1" height="28" fill="#008000"/>
<rect x="235" y="451" width="1" height="28" fill="#008000"/>
<rect x="239" y="451" width="1" height="28" fill="#008000"/>
<rect x="243" y="451" width="1" height="28" fill="#FF0000"/>
<rect x="247" y="451" width="1" height="28" fill="#008000"/>
<rect x="251" y="451" width="1" height="28" fill="#FF0000"/>
<rect x="255" y="451" width="1" height="28" fill="#008000"/>
<rect x="259" y="451" width="1" height="28" fill="#FF0000"/>
<rect x="263" y="451" width="1" height="28" fill="#008000"/>
<rect x="267" y="451" width="1" height="28" fill="#FF0000"/>
<rect x="271" y="451" width="1" height="28" fill="#008000"/>
<rect x="275" y="451" width="1" height="28" fill="#008000"/>
<rect x="279" y="451" width="1" height="28" fill="#FF0000"/>
<rect x="283" y="451" width="1" height="28" fill="#FF0000"/>
<rect x="287" y="451" width="1" height="28" fill="#008000"/>
<rect x="291" y="451" width="1" height="28" fill="#008000"/>
<rect x="295" y="451" width="1" height="28" fill="#FF0000"/>
<rect x="299" y="451" width="1" height="28" fill="#008000"/>
<rect x="303" y="452" width="1" height="27" fill="#FF0000"/>
<rect x="307" y="451" width="1" height="28" fill="#008000"/>
<rect x="311" y="451" width="1" height="28" fill="#008000"/>
<rect x="315" y="451" width="1" height="28" fill="#FF0000"/>
<rect x="319" y="451" width="1" height="28" fill="#FF0000"/>
<rect x="323" y="451" width="1" height="28" fill="#008000"/>
<rect x="327" y="451" width="1" height="28" fill="#008000"/>
<rect x="331" y="451" width="1" height="28" fill="#FF0000"/>
<rect x="335" y="451" width="1" height="28" fill="#008000"/>
<rect x="339" y="451" width="1" height="28" fill="#FF0000"/>
<rect x="343" y="451" width="1" height="28" fill="#FF0000"/>
<rect x="347" y="451" width="1" height="28" fill="#FF0000"/>
<rect x="351" y="451" width="1" height="28" fill="#FF0000"/>
<rect x="355" y="451" width="1" height="28" fill="#008000"/>
<rect x="359" y="451" width="1" height="28" fill="#008000"/>
<rect x="363" y="451" width="1" height="28" fill="#FF0000"/>
<rect x="367" y="451" width="1" height="28" fill="#008000"/>
<rect x="371" y="451" width="1" height="28" fill="#FF0000"/>
<rect x="375" y="451" width="1" height="28" fill="#008000"/>
<rect x="379" y="451" width="1" height="28" fill="#008000"/>
<rect x="383" y="451" width="1" height="28" fill="#008000"/>
<rect x="387" y="451" width="1" height="28" fill="#008000"/>
<rect x="391" y="451" width="1" height="28" fill="#FF0000"/>
<rect x="395" y="451" width="1" height="28" fill="#008000"/>
<rect x="399" y="451" width="1" height="28" fill="#008000"/>
<rect x="403" y="451" width="1" height="28" fill="#FF0000"/>
<rect x="407" y="451" width="1" height="28" fill="#008000"/>
<rect x="411" y="451" width="1" height="28" fill="#FF0000"/>
<rect x="415" y="451" width="1" height="28" fill="#FF0000"/>
<rect x="419" y="451" width="1" height="28" fill="#008000"/>
<rect x="423" y="451" width="1" height="28" fill="#FF0000"/>
<rect x="427" y="451" width="1" height="28" fill="#008000"/>
<rect x="431" y="451" width="1" height="28" fill="#FF0000"/>
<rect x="435" y="451" width="1" height="28" fill="#FF0000"/>
<rect x="439" y="451" width="1" height="28" fill="#008000"/>
<rect x="443" y="451" width="1" height="28" fill="#FF0000"/>
<rect x="447" y="451" width="1" height="28" fill="#008000"/>
<rect x="451" y="451" width="1" height="28" fill="#008000"/>
<rect x="455" y="451" width="1" height="28" fill="#008000"/>
<rect x="459" y="451" width="1" height="28" fill="#008000"/>
<rect x="463" y="451" width="1" height="28" fill="#FF0000"/>
<rect x="467" y="451" width="1" height="28" fill="#008000"/>
<rect x="471" y="451" width="1" height="28" fill="#FF0000"/>
<rect x="475" y="451" width="1" height="28" fill="#008000"/>
<rect x="479" y="451" width="1" height="28" fill="#008000"/>
<rect x="483" y="451" width="1" height="28" fill="#008000"/>
<rect x="487" y="451" width="1" height="28" fill="#FF0000"/>
<rect x="491" y="451" width="1" height="28" fill="#008000"/>
<rect x="495" y="451" width="1" height="28" fill="#008000"/>
<rect x="499" y="451" width="1" height="28" fill="#008000"/>
<rect x="503" y="451" width="1" height="28" fill="#FF0000"/>
<rect x="507" y="451" width="1" height="28" fill="#FF0000"/>
<rect x="511" y="451" width="1" height="28" fill="#008000"/>
<rect x="515" y="451" width="1" height="28" fill="#008000"/>
<rect x="519" y="451" width="1" height="28" fill="#FF0000"/>
<rect x="523" y="451" width="1" height="28" fill="#008000"/>
<rect x="527" y="451" width="1" height="28" fill="#FF0000"/>
<rect x="531" y="451" width="1" height="28" fill="#008000"/>
<rect x="535" y="451" width="1" height="28" fill="#008000"/>
<rect x="539" y="451" width="1" height="28" fill="#FF0000"/>
<rect x="543" y="451" width="1" height="28" fill="#FF0000"/>
<rect x="547" y="451" width="1" height="28" fill="#FF0000"/>
<rect x="551" y="451" width="1" height="28" fill="#008000"/>
<rect x="555" y="451" width="1" height="28" fill="#008000"/>
<rect x="559" y="451" width="1" height="28" fill="#FF0000"/>
<rect x="563" y="451" width="1" height="28" fill="#008000"/>
<rect x="567" y="451" width="1" height="28" fill="#FF0000"/>
<rect x="571" y="451" width="1" height="28" fill="#008000"/>
<rect x="575" y="451" width="1" height="28" fill="#FF0000"/>
<rect x="579" y="451" width="1" height="28" fill="#008000"/>
<rect x="583" y="451" width="1" height="28" fill="#FF0000"/>
<rect x="587" y="451" width="1" height="28" fill="#008000"/>
<rect x="591" y="451" width="1" height="28" fill="#FF0000"/>
<rect x="595" y="451" width="1" height="28" fill="#008000"/>
<rect x="599" y="451" width="1" height="28" fill="#008000"/>
<rect x="603" y="451" width="1" height="28" fill="#FF0000"/>
<rect x="607" y="451" width="1" height="28" fill="#008000"/>
<rect x="611" y="451" width="1" height="28" fill="#FF0000"/>
<rect x="615" y="451" width="1" height="28" fill="#FF0000"/>
<rect x="619" y="451" width="1" height="28" fill="#008000"/>
<rect x="623" y="451" width="1" height="28" fill="#008000"/>
<rect x="627" y="475" width="1" height="4" fill="#FF0000"/>
<rect x="655" y="448" width="1" height="1" fill="#000"/>
<rect x="655" y="478" width="1" height="1" fill="#000"/>
</g>
<text x="7.1" y="460" fill="#000" font-size="10.2" textLength="36.1" lengthAdjust="spacingAndGlyphs" text-anchor="start">Volumes</text>
<text x="46.4" y="460" fill="#000" font-size="10.2" textLength="14.1" lengthAdjust="spacingAndGlyphs" text-anchor="start">268</text>
<text x="658.3" y="458" fill="#000" font-size="10.2" textLength="19.7" lengthAdjust="spacingAndGlyphs" text-anchor="start">1969</text>
<text x="658.3" y="476" fill="#000" font-size="10.2" textLength="4.6" lengthAdjust="spacingAndGlyphs" text-anchor="start">0</text>
<g shape-rendering="crispEdges">
<rect x="3" y="480" width="1" height="3" fill="#000"/>
<rect x="67" y="480" width="1" height="3" fill="#000"/>
<rect x="131" y="480" width="1" height="3" fill="#000"/>
<rect x="195" y="480" width="1" height="3" fill="#000"/>
<rect x="259" y="480" width="1" height="3" fill="#000"/>
<rect x="323" y="480" width="1" height="3" fill="#000"/>
<rect x="387" y="480" width="1" height="3" fill="#000"/>
<rect x="451" y="480" width="1" height="3" fill="#000"/>
<rect x="515" y="480" width="1" height="3" fill="#000"/>
<rect x="579" y="480" width="1" height="3" fill="#000"/>
</g>
<text x="2.1" y="491.7" fill="#000" font-size="10.2" textLength="52.699999999999996" lengthAdjust="spacingAndGlyphs" text-anchor="start">18 Aug 2025</text>
<text x="66.1" y="491.7" fill="#000" font-size="10.2" textLength="46.8" lengthAdjust="spacingAndGlyphs" text-anchor="start">9 Sep 2025</text>
<text x="130.1" y="491.7" fill="#000" font-size="10.2" textLength="46.0" lengthAdjust="spacingAndGlyphs" text-anchor="start">1 Oct 2025</text>
<text x="194.1" y="491.7" fill="#000" font-size="10.2" textLength="50.5" lengthAdjust="spacingAndGlyphs" text-anchor="start">23 Oct 2025</text>
<text x="258.1" y="491.7" fill="#000" font-size="10.2" textLength="53.199999999999996" lengthAdjust="spacingAndGlyphs" text-anchor="start">17 Nov 2025</text>
<text x="322.1" y="491.7" fill="#000" font-size="10.2" textLength="47.699999999999996" lengthAdjust="spacingAndGlyphs" text-anchor="start">9 Dec 2025</text>
<text x="386.1" y="491.7" fill="#000" font-size="10.2" textLength="45.1" lengthAdjust="spacingAndGlyphs" text-anchor="start">8 Jan 2026</text>
<text x="450.1" y="491.7" fill="#000" font-size="10.2" textLength="49.699999999999996" lengthAdjust="spacingAndGlyphs" text-anchor="start">30 Jan 2026</text>
<text x="514.1" y="491.7" fill="#000" font-size="10.2" textLength="51.8" lengthAdjust="spacingAndGlyphs" text-anchor="start">23 Feb 2026</text>
<text x="578.1" y="491.7" fill="#000" font-size="10.2" textLength="51.3" lengthAdjust="spacingAndGlyphs" text-anchor="start">17 Mar 2026</text>
</svg>
</body></html>
